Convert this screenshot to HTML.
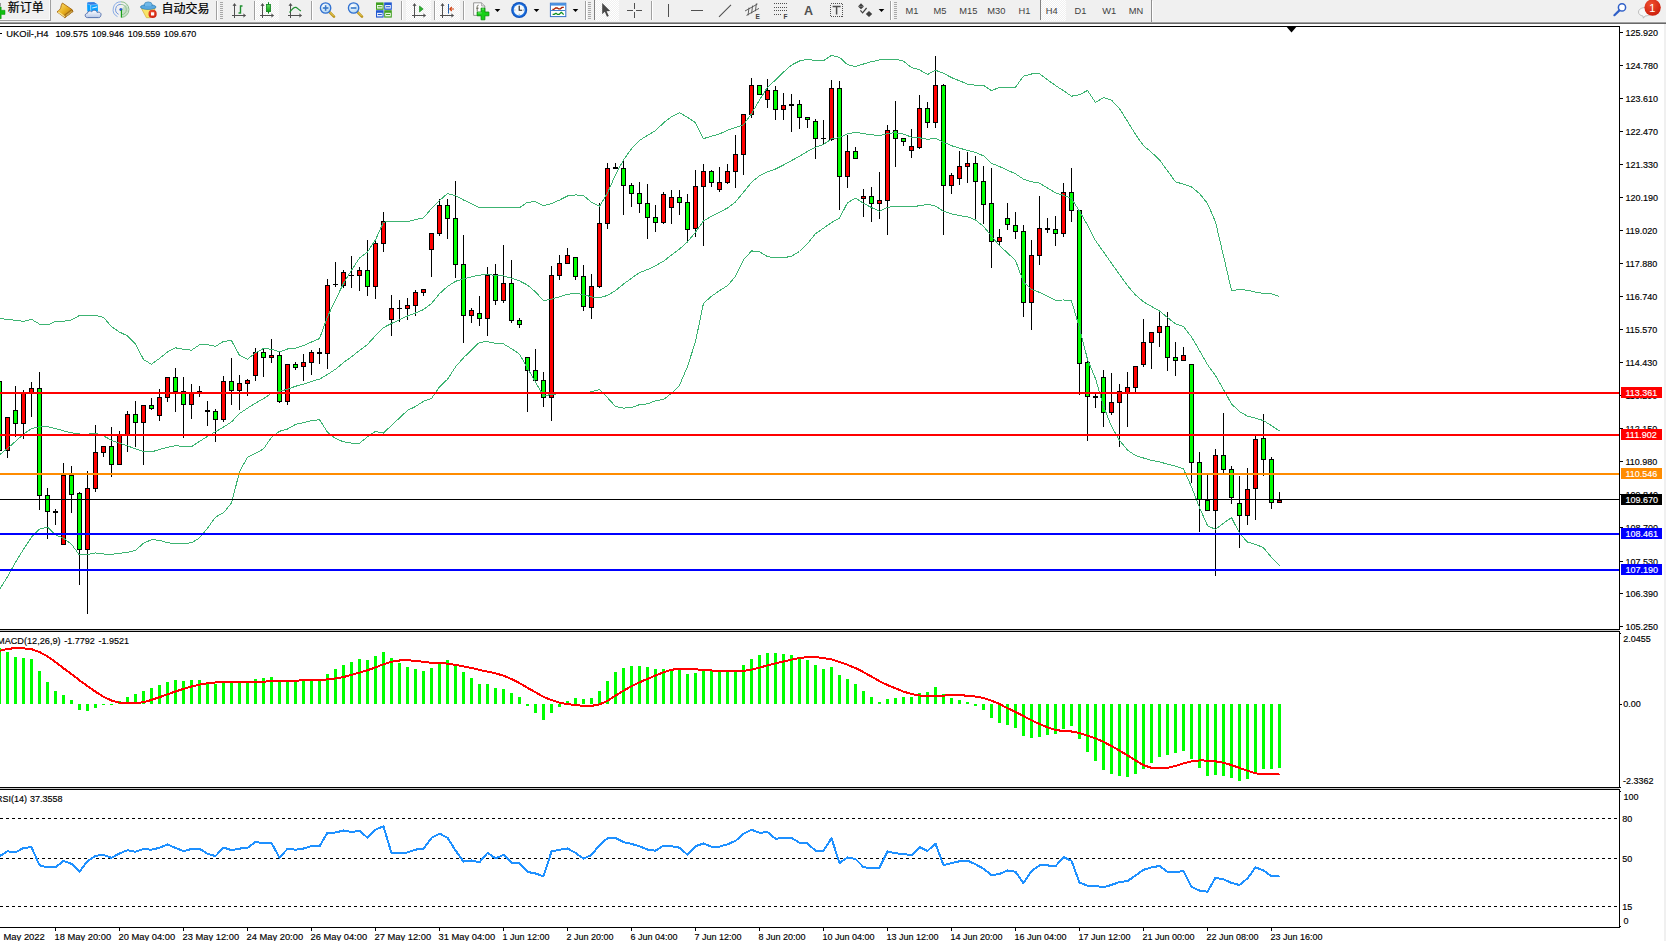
<!DOCTYPE html>
<html lang="zh"><head><meta charset="utf-8"><title>UKOil-,H4</title>
<style>
html,body{margin:0;padding:0;background:#fff;overflow:hidden}
body{width:1666px;height:941px;position:relative}
svg{position:absolute;left:0;top:0;display:block}
text{font-family:'Liberation Sans', 'Noto Sans CJK SC', sans-serif;}
</style></head><body>
<svg width="1666" height="941" viewBox="0 0 1666 941">
<rect x="0" y="0" width="1666" height="941" fill="#fff"/>
<g shape-rendering="crispEdges">
<rect x="0" y="26" width="1620" height="1" fill="#000"/>
<rect x="1619" y="26" width="1" height="902" fill="#000"/>
<rect x="0" y="629" width="1620" height="1" fill="#000"/>
<rect x="0" y="630" width="1620" height="1" fill="#c8c8c8"/>
<rect x="0" y="631" width="1620" height="1" fill="#000"/>
<rect x="0" y="787" width="1620" height="1" fill="#000"/>
<rect x="0" y="788" width="1620" height="1" fill="#c8c8c8"/>
<rect x="0" y="789" width="1620" height="1" fill="#000"/>
<rect x="0" y="927" width="1620" height="1" fill="#000"/>
<rect x="1664" y="24" width="2" height="917" fill="#f0f0f0"/>
</g>
<g shape-rendering="crispEdges">
<rect x="-1" y="372" width="1" height="80" fill="#000"/>
<rect x="-3" y="381" width="5" height="70" fill="#000"/>
<rect x="-2" y="382" width="3" height="68" fill="#00ff00"/>
<rect x="7" y="417" width="1" height="41" fill="#000"/>
<rect x="5" y="417" width="5" height="34" fill="#000"/>
<rect x="6" y="418" width="3" height="32" fill="#ff0000"/>
<rect x="15" y="386" width="1" height="51" fill="#000"/>
<rect x="13" y="410" width="5" height="14" fill="#000"/>
<rect x="14" y="411" width="3" height="12" fill="#00ff00"/>
<rect x="23" y="390" width="1" height="49" fill="#000"/>
<rect x="21" y="393" width="5" height="31" fill="#000"/>
<rect x="22" y="394" width="3" height="29" fill="#ff0000"/>
<rect x="31" y="382" width="1" height="35" fill="#000"/>
<rect x="29" y="388" width="5" height="6" fill="#000"/>
<rect x="30" y="389" width="3" height="4" fill="#ff0000"/>
<rect x="39" y="372" width="1" height="138" fill="#000"/>
<rect x="37" y="388" width="5" height="108" fill="#000"/>
<rect x="38" y="389" width="3" height="106" fill="#00ff00"/>
<rect x="47" y="488" width="1" height="51" fill="#000"/>
<rect x="45" y="495" width="5" height="17" fill="#000"/>
<rect x="46" y="496" width="3" height="15" fill="#00ff00"/>
<rect x="55" y="509" width="1" height="16" fill="#000"/>
<rect x="53" y="511" width="5" height="2" fill="#000"/>
<rect x="63" y="463" width="1" height="81" fill="#000"/>
<rect x="61" y="475" width="5" height="70" fill="#000"/>
<rect x="62" y="476" width="3" height="68" fill="#ff0000"/>
<rect x="71" y="466" width="1" height="47" fill="#000"/>
<rect x="69" y="475" width="5" height="20" fill="#000"/>
<rect x="70" y="476" width="3" height="18" fill="#00ff00"/>
<rect x="79" y="492" width="1" height="93" fill="#000"/>
<rect x="77" y="493" width="5" height="57" fill="#000"/>
<rect x="78" y="494" width="3" height="55" fill="#00ff00"/>
<rect x="87" y="471" width="1" height="143" fill="#000"/>
<rect x="85" y="488" width="5" height="62" fill="#000"/>
<rect x="86" y="489" width="3" height="60" fill="#ff0000"/>
<rect x="95" y="425" width="1" height="67" fill="#000"/>
<rect x="93" y="452" width="5" height="37" fill="#000"/>
<rect x="94" y="453" width="3" height="35" fill="#ff0000"/>
<rect x="103" y="446" width="1" height="11" fill="#000"/>
<rect x="101" y="446" width="5" height="7" fill="#000"/>
<rect x="102" y="447" width="3" height="5" fill="#ff0000"/>
<rect x="111" y="427" width="1" height="50" fill="#000"/>
<rect x="109" y="446" width="5" height="19" fill="#000"/>
<rect x="110" y="447" width="3" height="17" fill="#00ff00"/>
<rect x="119" y="431" width="1" height="33" fill="#000"/>
<rect x="117" y="435" width="5" height="30" fill="#000"/>
<rect x="118" y="436" width="3" height="28" fill="#ff0000"/>
<rect x="127" y="411" width="1" height="41" fill="#000"/>
<rect x="125" y="414" width="5" height="21" fill="#000"/>
<rect x="126" y="415" width="3" height="19" fill="#ff0000"/>
<rect x="135" y="401" width="1" height="46" fill="#000"/>
<rect x="133" y="414" width="5" height="9" fill="#000"/>
<rect x="134" y="415" width="3" height="7" fill="#00ff00"/>
<rect x="143" y="405" width="1" height="60" fill="#000"/>
<rect x="141" y="405" width="5" height="18" fill="#000"/>
<rect x="142" y="406" width="3" height="16" fill="#ff0000"/>
<rect x="151" y="398" width="1" height="12" fill="#000"/>
<rect x="149" y="405" width="5" height="4" fill="#000"/>
<rect x="150" y="406" width="3" height="2" fill="#00ff00"/>
<rect x="159" y="389" width="1" height="32" fill="#000"/>
<rect x="157" y="397" width="5" height="19" fill="#000"/>
<rect x="158" y="398" width="3" height="17" fill="#ff0000"/>
<rect x="167" y="377" width="1" height="25" fill="#000"/>
<rect x="165" y="377" width="5" height="21" fill="#000"/>
<rect x="166" y="378" width="3" height="19" fill="#ff0000"/>
<rect x="175" y="368" width="1" height="44" fill="#000"/>
<rect x="173" y="377" width="5" height="15" fill="#000"/>
<rect x="174" y="378" width="3" height="13" fill="#00ff00"/>
<rect x="183" y="377" width="1" height="61" fill="#000"/>
<rect x="181" y="391" width="5" height="14" fill="#000"/>
<rect x="182" y="392" width="3" height="12" fill="#00ff00"/>
<rect x="191" y="384" width="1" height="35" fill="#000"/>
<rect x="189" y="393" width="5" height="12" fill="#000"/>
<rect x="190" y="394" width="3" height="10" fill="#ff0000"/>
<rect x="199" y="386" width="1" height="11" fill="#000"/>
<rect x="197" y="391" width="5" height="1" fill="#000"/>
<rect x="207" y="401" width="1" height="25" fill="#000"/>
<rect x="205" y="410" width="5" height="2" fill="#000"/>
<rect x="215" y="409" width="1" height="33" fill="#000"/>
<rect x="213" y="411" width="5" height="9" fill="#000"/>
<rect x="214" y="412" width="3" height="7" fill="#00ff00"/>
<rect x="223" y="376" width="1" height="46" fill="#000"/>
<rect x="221" y="381" width="5" height="39" fill="#000"/>
<rect x="222" y="382" width="3" height="37" fill="#ff0000"/>
<rect x="231" y="358" width="1" height="47" fill="#000"/>
<rect x="229" y="381" width="5" height="10" fill="#000"/>
<rect x="230" y="382" width="3" height="8" fill="#00ff00"/>
<rect x="239" y="375" width="1" height="35" fill="#000"/>
<rect x="237" y="383" width="5" height="8" fill="#000"/>
<rect x="238" y="384" width="3" height="6" fill="#ff0000"/>
<rect x="247" y="379" width="1" height="17" fill="#000"/>
<rect x="245" y="380" width="5" height="4" fill="#000"/>
<rect x="246" y="381" width="3" height="2" fill="#ff0000"/>
<rect x="255" y="348" width="1" height="33" fill="#000"/>
<rect x="253" y="352" width="5" height="24" fill="#000"/>
<rect x="254" y="353" width="3" height="22" fill="#ff0000"/>
<rect x="263" y="348" width="1" height="29" fill="#000"/>
<rect x="261" y="352" width="5" height="6" fill="#000"/>
<rect x="262" y="353" width="3" height="4" fill="#00ff00"/>
<rect x="271" y="339" width="1" height="24" fill="#000"/>
<rect x="269" y="355" width="5" height="3" fill="#000"/>
<rect x="270" y="356" width="3" height="1" fill="#ff0000"/>
<rect x="279" y="351" width="1" height="52" fill="#000"/>
<rect x="277" y="355" width="5" height="47" fill="#000"/>
<rect x="278" y="356" width="3" height="45" fill="#00ff00"/>
<rect x="287" y="364" width="1" height="41" fill="#000"/>
<rect x="285" y="364" width="5" height="38" fill="#000"/>
<rect x="286" y="365" width="3" height="36" fill="#ff0000"/>
<rect x="295" y="362" width="1" height="8" fill="#000"/>
<rect x="293" y="364" width="5" height="4" fill="#000"/>
<rect x="294" y="365" width="3" height="2" fill="#00ff00"/>
<rect x="303" y="354" width="1" height="27" fill="#000"/>
<rect x="301" y="362" width="5" height="5" fill="#000"/>
<rect x="302" y="363" width="3" height="3" fill="#ff0000"/>
<rect x="311" y="350" width="1" height="25" fill="#000"/>
<rect x="309" y="352" width="5" height="11" fill="#000"/>
<rect x="310" y="353" width="3" height="9" fill="#ff0000"/>
<rect x="319" y="348" width="1" height="16" fill="#000"/>
<rect x="317" y="352" width="5" height="2" fill="#000"/>
<rect x="327" y="279" width="1" height="90" fill="#000"/>
<rect x="325" y="285" width="5" height="69" fill="#000"/>
<rect x="326" y="286" width="3" height="67" fill="#ff0000"/>
<rect x="335" y="262" width="1" height="25" fill="#000"/>
<rect x="333" y="284" width="5" height="1" fill="#000"/>
<rect x="343" y="270" width="1" height="18" fill="#000"/>
<rect x="341" y="272" width="5" height="14" fill="#000"/>
<rect x="342" y="273" width="3" height="12" fill="#ff0000"/>
<rect x="351" y="256" width="1" height="32" fill="#000"/>
<rect x="349" y="275" width="5" height="1" fill="#000"/>
<rect x="359" y="267" width="1" height="24" fill="#000"/>
<rect x="357" y="270" width="5" height="6" fill="#000"/>
<rect x="358" y="271" width="3" height="4" fill="#ff0000"/>
<rect x="367" y="240" width="1" height="56" fill="#000"/>
<rect x="365" y="270" width="5" height="17" fill="#000"/>
<rect x="366" y="271" width="3" height="15" fill="#00ff00"/>
<rect x="375" y="240" width="1" height="59" fill="#000"/>
<rect x="373" y="243" width="5" height="44" fill="#000"/>
<rect x="374" y="244" width="3" height="42" fill="#ff0000"/>
<rect x="383" y="212" width="1" height="40" fill="#000"/>
<rect x="381" y="221" width="5" height="23" fill="#000"/>
<rect x="382" y="222" width="3" height="21" fill="#ff0000"/>
<rect x="391" y="295" width="1" height="41" fill="#000"/>
<rect x="389" y="308" width="5" height="12" fill="#000"/>
<rect x="390" y="309" width="3" height="10" fill="#ff0000"/>
<rect x="399" y="300" width="1" height="22" fill="#000"/>
<rect x="397" y="308" width="5" height="1" fill="#000"/>
<rect x="407" y="298" width="1" height="22" fill="#000"/>
<rect x="405" y="305" width="5" height="4" fill="#000"/>
<rect x="406" y="306" width="3" height="2" fill="#ff0000"/>
<rect x="415" y="290" width="1" height="26" fill="#000"/>
<rect x="413" y="292" width="5" height="14" fill="#000"/>
<rect x="414" y="293" width="3" height="12" fill="#ff0000"/>
<rect x="423" y="289" width="1" height="7" fill="#000"/>
<rect x="421" y="289" width="5" height="4" fill="#000"/>
<rect x="422" y="290" width="3" height="2" fill="#ff0000"/>
<rect x="431" y="233" width="1" height="44" fill="#000"/>
<rect x="429" y="233" width="5" height="17" fill="#000"/>
<rect x="430" y="234" width="3" height="15" fill="#ff0000"/>
<rect x="439" y="199" width="1" height="37" fill="#000"/>
<rect x="437" y="205" width="5" height="29" fill="#000"/>
<rect x="438" y="206" width="3" height="27" fill="#ff0000"/>
<rect x="447" y="199" width="1" height="40" fill="#000"/>
<rect x="445" y="205" width="5" height="14" fill="#000"/>
<rect x="446" y="206" width="3" height="12" fill="#00ff00"/>
<rect x="455" y="181" width="1" height="97" fill="#000"/>
<rect x="453" y="218" width="5" height="47" fill="#000"/>
<rect x="454" y="219" width="3" height="45" fill="#00ff00"/>
<rect x="463" y="235" width="1" height="108" fill="#000"/>
<rect x="461" y="264" width="5" height="52" fill="#000"/>
<rect x="462" y="265" width="3" height="50" fill="#00ff00"/>
<rect x="471" y="308" width="1" height="15" fill="#000"/>
<rect x="469" y="310" width="5" height="6" fill="#000"/>
<rect x="470" y="311" width="3" height="4" fill="#ff0000"/>
<rect x="479" y="296" width="1" height="30" fill="#000"/>
<rect x="477" y="313" width="5" height="6" fill="#000"/>
<rect x="478" y="314" width="3" height="4" fill="#00ff00"/>
<rect x="487" y="267" width="1" height="69" fill="#000"/>
<rect x="485" y="275" width="5" height="44" fill="#000"/>
<rect x="486" y="276" width="3" height="42" fill="#ff0000"/>
<rect x="495" y="264" width="1" height="41" fill="#000"/>
<rect x="493" y="274" width="5" height="27" fill="#000"/>
<rect x="494" y="275" width="3" height="25" fill="#00ff00"/>
<rect x="503" y="245" width="1" height="58" fill="#000"/>
<rect x="501" y="283" width="5" height="18" fill="#000"/>
<rect x="502" y="284" width="3" height="16" fill="#ff0000"/>
<rect x="511" y="260" width="1" height="63" fill="#000"/>
<rect x="509" y="283" width="5" height="38" fill="#000"/>
<rect x="510" y="284" width="3" height="36" fill="#00ff00"/>
<rect x="519" y="318" width="1" height="10" fill="#000"/>
<rect x="517" y="320" width="5" height="5" fill="#000"/>
<rect x="518" y="321" width="3" height="3" fill="#00ff00"/>
<rect x="527" y="357" width="1" height="55" fill="#000"/>
<rect x="525" y="357" width="5" height="14" fill="#000"/>
<rect x="526" y="358" width="3" height="12" fill="#00ff00"/>
<rect x="535" y="349" width="1" height="34" fill="#000"/>
<rect x="533" y="370" width="5" height="11" fill="#000"/>
<rect x="534" y="371" width="3" height="9" fill="#00ff00"/>
<rect x="543" y="372" width="1" height="35" fill="#000"/>
<rect x="541" y="380" width="5" height="18" fill="#000"/>
<rect x="542" y="381" width="3" height="16" fill="#00ff00"/>
<rect x="551" y="266" width="1" height="155" fill="#000"/>
<rect x="549" y="275" width="5" height="123" fill="#000"/>
<rect x="550" y="276" width="3" height="121" fill="#ff0000"/>
<rect x="559" y="255" width="1" height="25" fill="#000"/>
<rect x="557" y="263" width="5" height="13" fill="#000"/>
<rect x="558" y="264" width="3" height="11" fill="#ff0000"/>
<rect x="567" y="248" width="1" height="15" fill="#000"/>
<rect x="565" y="255" width="5" height="9" fill="#000"/>
<rect x="566" y="256" width="3" height="7" fill="#ff0000"/>
<rect x="575" y="257" width="1" height="23" fill="#000"/>
<rect x="573" y="257" width="5" height="20" fill="#000"/>
<rect x="574" y="258" width="3" height="18" fill="#00ff00"/>
<rect x="583" y="265" width="1" height="46" fill="#000"/>
<rect x="581" y="276" width="5" height="31" fill="#000"/>
<rect x="582" y="277" width="3" height="29" fill="#00ff00"/>
<rect x="591" y="274" width="1" height="45" fill="#000"/>
<rect x="589" y="286" width="5" height="22" fill="#000"/>
<rect x="590" y="287" width="3" height="20" fill="#ff0000"/>
<rect x="599" y="203" width="1" height="85" fill="#000"/>
<rect x="597" y="223" width="5" height="64" fill="#000"/>
<rect x="598" y="224" width="3" height="62" fill="#ff0000"/>
<rect x="607" y="163" width="1" height="66" fill="#000"/>
<rect x="605" y="168" width="5" height="56" fill="#000"/>
<rect x="606" y="169" width="3" height="54" fill="#ff0000"/>
<rect x="615" y="163" width="1" height="5" fill="#000"/>
<rect x="613" y="167" width="5" height="2" fill="#000"/>
<rect x="623" y="161" width="1" height="54" fill="#000"/>
<rect x="621" y="168" width="5" height="18" fill="#000"/>
<rect x="622" y="169" width="3" height="16" fill="#00ff00"/>
<rect x="631" y="183" width="1" height="24" fill="#000"/>
<rect x="629" y="185" width="5" height="9" fill="#000"/>
<rect x="630" y="186" width="3" height="7" fill="#00ff00"/>
<rect x="639" y="182" width="1" height="31" fill="#000"/>
<rect x="637" y="193" width="5" height="11" fill="#000"/>
<rect x="638" y="194" width="3" height="9" fill="#00ff00"/>
<rect x="647" y="184" width="1" height="55" fill="#000"/>
<rect x="645" y="203" width="5" height="15" fill="#000"/>
<rect x="646" y="204" width="3" height="13" fill="#00ff00"/>
<rect x="655" y="205" width="1" height="27" fill="#000"/>
<rect x="653" y="217" width="5" height="6" fill="#000"/>
<rect x="654" y="218" width="3" height="4" fill="#00ff00"/>
<rect x="663" y="192" width="1" height="32" fill="#000"/>
<rect x="661" y="194" width="5" height="29" fill="#000"/>
<rect x="662" y="195" width="3" height="27" fill="#ff0000"/>
<rect x="671" y="190" width="1" height="34" fill="#000"/>
<rect x="669" y="197" width="5" height="11" fill="#000"/>
<rect x="670" y="198" width="3" height="9" fill="#ff0000"/>
<rect x="679" y="190" width="1" height="25" fill="#000"/>
<rect x="677" y="197" width="5" height="6" fill="#000"/>
<rect x="678" y="198" width="3" height="4" fill="#00ff00"/>
<rect x="687" y="194" width="1" height="49" fill="#000"/>
<rect x="685" y="202" width="5" height="28" fill="#000"/>
<rect x="686" y="203" width="3" height="26" fill="#00ff00"/>
<rect x="695" y="170" width="1" height="67" fill="#000"/>
<rect x="693" y="186" width="5" height="43" fill="#000"/>
<rect x="694" y="187" width="3" height="41" fill="#ff0000"/>
<rect x="703" y="164" width="1" height="82" fill="#000"/>
<rect x="701" y="171" width="5" height="16" fill="#000"/>
<rect x="702" y="172" width="3" height="14" fill="#ff0000"/>
<rect x="711" y="170" width="1" height="17" fill="#000"/>
<rect x="709" y="171" width="5" height="12" fill="#000"/>
<rect x="710" y="172" width="3" height="10" fill="#00ff00"/>
<rect x="719" y="167" width="1" height="25" fill="#000"/>
<rect x="717" y="182" width="5" height="8" fill="#000"/>
<rect x="718" y="183" width="3" height="6" fill="#ff0000"/>
<rect x="727" y="164" width="1" height="20" fill="#000"/>
<rect x="725" y="171" width="5" height="12" fill="#000"/>
<rect x="726" y="172" width="3" height="10" fill="#ff0000"/>
<rect x="735" y="135" width="1" height="53" fill="#000"/>
<rect x="733" y="154" width="5" height="18" fill="#000"/>
<rect x="734" y="155" width="3" height="16" fill="#ff0000"/>
<rect x="743" y="114" width="1" height="61" fill="#000"/>
<rect x="741" y="114" width="5" height="41" fill="#000"/>
<rect x="742" y="115" width="3" height="39" fill="#ff0000"/>
<rect x="751" y="78" width="1" height="40" fill="#000"/>
<rect x="749" y="85" width="5" height="30" fill="#000"/>
<rect x="750" y="86" width="3" height="28" fill="#ff0000"/>
<rect x="759" y="85" width="1" height="9" fill="#000"/>
<rect x="757" y="85" width="5" height="10" fill="#000"/>
<rect x="758" y="86" width="3" height="8" fill="#00ff00"/>
<rect x="767" y="79" width="1" height="29" fill="#000"/>
<rect x="765" y="90" width="5" height="10" fill="#000"/>
<rect x="766" y="91" width="3" height="8" fill="#ff0000"/>
<rect x="775" y="86" width="1" height="34" fill="#000"/>
<rect x="773" y="90" width="5" height="20" fill="#000"/>
<rect x="774" y="91" width="3" height="18" fill="#00ff00"/>
<rect x="783" y="93" width="1" height="27" fill="#000"/>
<rect x="781" y="105" width="5" height="5" fill="#000"/>
<rect x="782" y="106" width="3" height="3" fill="#ff0000"/>
<rect x="791" y="94" width="1" height="38" fill="#000"/>
<rect x="789" y="104" width="5" height="2" fill="#000"/>
<rect x="799" y="100" width="1" height="29" fill="#000"/>
<rect x="797" y="104" width="5" height="14" fill="#000"/>
<rect x="798" y="105" width="3" height="12" fill="#00ff00"/>
<rect x="807" y="117" width="1" height="11" fill="#000"/>
<rect x="805" y="117" width="5" height="3" fill="#000"/>
<rect x="806" y="118" width="3" height="1" fill="#00ff00"/>
<rect x="815" y="119" width="1" height="40" fill="#000"/>
<rect x="813" y="121" width="5" height="18" fill="#000"/>
<rect x="814" y="122" width="3" height="16" fill="#00ff00"/>
<rect x="823" y="120" width="1" height="24" fill="#000"/>
<rect x="821" y="138" width="5" height="1" fill="#000"/>
<rect x="831" y="80" width="1" height="61" fill="#000"/>
<rect x="829" y="88" width="5" height="52" fill="#000"/>
<rect x="830" y="89" width="3" height="50" fill="#ff0000"/>
<rect x="839" y="81" width="1" height="129" fill="#000"/>
<rect x="837" y="88" width="5" height="89" fill="#000"/>
<rect x="838" y="89" width="3" height="87" fill="#00ff00"/>
<rect x="847" y="135" width="1" height="53" fill="#000"/>
<rect x="845" y="151" width="5" height="26" fill="#000"/>
<rect x="846" y="152" width="3" height="24" fill="#ff0000"/>
<rect x="855" y="147" width="1" height="12" fill="#000"/>
<rect x="853" y="151" width="5" height="8" fill="#000"/>
<rect x="854" y="152" width="3" height="6" fill="#00ff00"/>
<rect x="863" y="189" width="1" height="28" fill="#000"/>
<rect x="861" y="196" width="5" height="3" fill="#000"/>
<rect x="862" y="197" width="3" height="1" fill="#ff0000"/>
<rect x="871" y="187" width="1" height="35" fill="#000"/>
<rect x="869" y="196" width="5" height="8" fill="#000"/>
<rect x="870" y="197" width="3" height="6" fill="#00ff00"/>
<rect x="879" y="172" width="1" height="47" fill="#000"/>
<rect x="877" y="200" width="5" height="4" fill="#000"/>
<rect x="878" y="201" width="3" height="2" fill="#ff0000"/>
<rect x="887" y="125" width="1" height="110" fill="#000"/>
<rect x="885" y="130" width="5" height="71" fill="#000"/>
<rect x="886" y="131" width="3" height="69" fill="#ff0000"/>
<rect x="895" y="101" width="1" height="66" fill="#000"/>
<rect x="893" y="130" width="5" height="9" fill="#000"/>
<rect x="894" y="131" width="3" height="7" fill="#00ff00"/>
<rect x="903" y="138" width="1" height="8" fill="#000"/>
<rect x="901" y="138" width="5" height="4" fill="#000"/>
<rect x="902" y="139" width="3" height="2" fill="#00ff00"/>
<rect x="911" y="129" width="1" height="29" fill="#000"/>
<rect x="909" y="146" width="5" height="5" fill="#000"/>
<rect x="910" y="147" width="3" height="3" fill="#ff0000"/>
<rect x="919" y="95" width="1" height="54" fill="#000"/>
<rect x="917" y="108" width="5" height="40" fill="#000"/>
<rect x="918" y="109" width="3" height="38" fill="#ff0000"/>
<rect x="927" y="102" width="1" height="26" fill="#000"/>
<rect x="925" y="108" width="5" height="15" fill="#000"/>
<rect x="926" y="109" width="3" height="13" fill="#00ff00"/>
<rect x="935" y="56" width="1" height="72" fill="#000"/>
<rect x="933" y="85" width="5" height="38" fill="#000"/>
<rect x="934" y="86" width="3" height="36" fill="#ff0000"/>
<rect x="943" y="84" width="1" height="151" fill="#000"/>
<rect x="941" y="85" width="5" height="101" fill="#000"/>
<rect x="942" y="86" width="3" height="99" fill="#00ff00"/>
<rect x="951" y="173" width="1" height="21" fill="#000"/>
<rect x="949" y="175" width="5" height="11" fill="#000"/>
<rect x="950" y="176" width="3" height="9" fill="#ff0000"/>
<rect x="959" y="151" width="1" height="34" fill="#000"/>
<rect x="957" y="166" width="5" height="13" fill="#000"/>
<rect x="958" y="167" width="3" height="11" fill="#ff0000"/>
<rect x="967" y="152" width="1" height="31" fill="#000"/>
<rect x="965" y="163" width="5" height="4" fill="#000"/>
<rect x="966" y="164" width="3" height="2" fill="#ff0000"/>
<rect x="975" y="156" width="1" height="65" fill="#000"/>
<rect x="973" y="163" width="5" height="19" fill="#000"/>
<rect x="974" y="164" width="3" height="17" fill="#00ff00"/>
<rect x="983" y="166" width="1" height="58" fill="#000"/>
<rect x="981" y="181" width="5" height="24" fill="#000"/>
<rect x="982" y="182" width="3" height="22" fill="#00ff00"/>
<rect x="991" y="168" width="1" height="100" fill="#000"/>
<rect x="989" y="203" width="5" height="39" fill="#000"/>
<rect x="990" y="204" width="3" height="37" fill="#00ff00"/>
<rect x="999" y="229" width="1" height="16" fill="#000"/>
<rect x="997" y="237" width="5" height="5" fill="#000"/>
<rect x="998" y="238" width="3" height="3" fill="#ff0000"/>
<rect x="1007" y="203" width="1" height="27" fill="#000"/>
<rect x="1005" y="218" width="5" height="7" fill="#000"/>
<rect x="1006" y="219" width="3" height="5" fill="#00ff00"/>
<rect x="1015" y="212" width="1" height="27" fill="#000"/>
<rect x="1013" y="225" width="5" height="7" fill="#000"/>
<rect x="1014" y="226" width="3" height="5" fill="#00ff00"/>
<rect x="1023" y="225" width="1" height="92" fill="#000"/>
<rect x="1021" y="231" width="5" height="72" fill="#000"/>
<rect x="1022" y="232" width="3" height="70" fill="#00ff00"/>
<rect x="1031" y="240" width="1" height="90" fill="#000"/>
<rect x="1029" y="255" width="5" height="48" fill="#000"/>
<rect x="1030" y="256" width="3" height="46" fill="#ff0000"/>
<rect x="1039" y="196" width="1" height="69" fill="#000"/>
<rect x="1037" y="228" width="5" height="28" fill="#000"/>
<rect x="1038" y="229" width="3" height="26" fill="#ff0000"/>
<rect x="1047" y="218" width="1" height="15" fill="#000"/>
<rect x="1045" y="228" width="5" height="2" fill="#000"/>
<rect x="1055" y="216" width="1" height="30" fill="#000"/>
<rect x="1053" y="229" width="5" height="5" fill="#000"/>
<rect x="1054" y="230" width="3" height="3" fill="#00ff00"/>
<rect x="1063" y="183" width="1" height="54" fill="#000"/>
<rect x="1061" y="192" width="5" height="42" fill="#000"/>
<rect x="1062" y="193" width="3" height="40" fill="#ff0000"/>
<rect x="1071" y="168" width="1" height="54" fill="#000"/>
<rect x="1069" y="192" width="5" height="19" fill="#000"/>
<rect x="1070" y="193" width="3" height="17" fill="#00ff00"/>
<rect x="1079" y="210" width="1" height="185" fill="#000"/>
<rect x="1077" y="210" width="5" height="154" fill="#000"/>
<rect x="1078" y="211" width="3" height="152" fill="#00ff00"/>
<rect x="1087" y="357" width="1" height="84" fill="#000"/>
<rect x="1085" y="362" width="5" height="35" fill="#000"/>
<rect x="1086" y="363" width="3" height="33" fill="#00ff00"/>
<rect x="1095" y="394" width="1" height="14" fill="#000"/>
<rect x="1093" y="396" width="5" height="2" fill="#000"/>
<rect x="1103" y="370" width="1" height="57" fill="#000"/>
<rect x="1101" y="377" width="5" height="36" fill="#000"/>
<rect x="1102" y="378" width="3" height="34" fill="#00ff00"/>
<rect x="1111" y="373" width="1" height="42" fill="#000"/>
<rect x="1109" y="402" width="5" height="11" fill="#000"/>
<rect x="1110" y="403" width="3" height="9" fill="#ff0000"/>
<rect x="1119" y="384" width="1" height="63" fill="#000"/>
<rect x="1117" y="391" width="5" height="12" fill="#000"/>
<rect x="1118" y="392" width="3" height="10" fill="#ff0000"/>
<rect x="1127" y="372" width="1" height="55" fill="#000"/>
<rect x="1125" y="387" width="5" height="6" fill="#000"/>
<rect x="1126" y="388" width="3" height="4" fill="#ff0000"/>
<rect x="1135" y="366" width="1" height="26" fill="#000"/>
<rect x="1133" y="366" width="5" height="22" fill="#000"/>
<rect x="1134" y="367" width="3" height="20" fill="#ff0000"/>
<rect x="1143" y="319" width="1" height="48" fill="#000"/>
<rect x="1141" y="342" width="5" height="23" fill="#000"/>
<rect x="1142" y="343" width="3" height="21" fill="#ff0000"/>
<rect x="1151" y="332" width="1" height="37" fill="#000"/>
<rect x="1149" y="332" width="5" height="11" fill="#000"/>
<rect x="1150" y="333" width="3" height="9" fill="#ff0000"/>
<rect x="1159" y="312" width="1" height="35" fill="#000"/>
<rect x="1157" y="326" width="5" height="7" fill="#000"/>
<rect x="1158" y="327" width="3" height="5" fill="#ff0000"/>
<rect x="1167" y="312" width="1" height="59" fill="#000"/>
<rect x="1165" y="326" width="5" height="32" fill="#000"/>
<rect x="1166" y="327" width="3" height="30" fill="#00ff00"/>
<rect x="1175" y="342" width="1" height="34" fill="#000"/>
<rect x="1173" y="357" width="5" height="4" fill="#000"/>
<rect x="1174" y="358" width="3" height="2" fill="#00ff00"/>
<rect x="1183" y="347" width="1" height="13" fill="#000"/>
<rect x="1181" y="355" width="5" height="6" fill="#000"/>
<rect x="1182" y="356" width="3" height="4" fill="#ff0000"/>
<rect x="1191" y="364" width="1" height="119" fill="#000"/>
<rect x="1189" y="364" width="5" height="99" fill="#000"/>
<rect x="1190" y="365" width="3" height="97" fill="#00ff00"/>
<rect x="1199" y="452" width="1" height="80" fill="#000"/>
<rect x="1197" y="462" width="5" height="38" fill="#000"/>
<rect x="1198" y="463" width="3" height="36" fill="#00ff00"/>
<rect x="1207" y="475" width="1" height="35" fill="#000"/>
<rect x="1205" y="500" width="5" height="11" fill="#000"/>
<rect x="1206" y="501" width="3" height="9" fill="#00ff00"/>
<rect x="1215" y="449" width="1" height="127" fill="#000"/>
<rect x="1213" y="455" width="5" height="56" fill="#000"/>
<rect x="1214" y="456" width="3" height="54" fill="#ff0000"/>
<rect x="1223" y="413" width="1" height="60" fill="#000"/>
<rect x="1221" y="455" width="5" height="15" fill="#000"/>
<rect x="1222" y="456" width="3" height="13" fill="#00ff00"/>
<rect x="1231" y="466" width="1" height="38" fill="#000"/>
<rect x="1229" y="469" width="5" height="29" fill="#000"/>
<rect x="1230" y="470" width="3" height="27" fill="#00ff00"/>
<rect x="1239" y="476" width="1" height="72" fill="#000"/>
<rect x="1237" y="503" width="5" height="13" fill="#000"/>
<rect x="1238" y="504" width="3" height="11" fill="#00ff00"/>
<rect x="1247" y="468" width="1" height="57" fill="#000"/>
<rect x="1245" y="489" width="5" height="27" fill="#000"/>
<rect x="1246" y="490" width="3" height="25" fill="#ff0000"/>
<rect x="1255" y="436" width="1" height="84" fill="#000"/>
<rect x="1253" y="439" width="5" height="50" fill="#000"/>
<rect x="1254" y="440" width="3" height="48" fill="#ff0000"/>
<rect x="1263" y="414" width="1" height="62" fill="#000"/>
<rect x="1261" y="438" width="5" height="22" fill="#000"/>
<rect x="1262" y="439" width="3" height="20" fill="#00ff00"/>
<rect x="1271" y="457" width="1" height="52" fill="#000"/>
<rect x="1269" y="459" width="5" height="44" fill="#000"/>
<rect x="1270" y="460" width="3" height="42" fill="#00ff00"/>
<rect x="1279" y="492" width="1" height="11" fill="#000"/>
<rect x="1277" y="500" width="5" height="3" fill="#000"/>
<rect x="1278" y="501" width="3" height="1" fill="#ff0000"/>
</g>
<clipPath id="cm"><rect x="0" y="27" width="1619" height="602"/></clipPath>
<g clip-path="url(#cm)">
<polyline points="-0.5,318.5 7.5,319.5 15.5,320.3 23.5,321.3 31.5,319.3 39.5,324.1 47.5,325.0 55.5,321.3 63.5,321.3 71.5,320.0 79.5,315.5 87.5,315.5 95.5,315.5 103.5,317.4 111.5,326.7 119.5,332.1 127.5,335.8 135.5,344.0 143.5,359.5 151.5,364.3 159.5,358.4 167.5,352.0 175.5,347.8 183.5,349.4 191.5,350.2 199.5,344.9 207.5,344.6 215.5,346.4 223.5,341.4 231.5,340.6 239.5,355.3 247.5,359.2 255.5,352.8 263.5,348.5 271.5,349.3 279.5,351.8 287.5,349.0 295.5,348.2 303.5,345.6 311.5,342.0 319.5,338.6 327.5,316.8 335.5,299.9 343.5,283.4 351.5,270.3 359.5,258.0 367.5,252.0 375.5,239.8 383.5,222.1 391.5,221.7 399.5,221.6 407.5,221.6 415.5,219.6 423.5,217.9 431.5,208.5 439.5,200.5 447.5,193.5 455.5,195.7 463.5,200.0 471.5,203.8 479.5,207.9 487.5,207.6 495.5,207.5 503.5,208.0 511.5,207.6 519.5,207.7 527.5,202.2 535.5,201.8 543.5,205.7 551.5,203.5 559.5,200.1 567.5,196.0 575.5,194.9 583.5,195.6 591.5,202.2 599.5,206.3 607.5,193.1 615.5,174.6 623.5,160.0 631.5,148.7 639.5,140.4 647.5,135.3 655.5,130.6 663.5,122.9 671.5,116.8 679.5,112.7 687.5,117.3 695.5,122.8 703.5,138.6 711.5,136.2 719.5,133.9 727.5,130.3 735.5,127.4 743.5,124.8 751.5,113.7 759.5,99.9 767.5,87.3 775.5,80.0 783.5,72.1 791.5,65.1 799.5,61.0 807.5,59.1 815.5,60.7 823.5,60.6 831.5,55.3 839.5,57.3 847.5,64.7 855.5,66.5 863.5,64.0 871.5,61.7 879.5,59.9 887.5,59.6 895.5,59.3 903.5,61.1 911.5,67.6 919.5,69.8 927.5,74.5 935.5,70.3 943.5,73.2 951.5,77.6 959.5,80.8 967.5,84.1 975.5,85.2 983.5,85.2 991.5,90.8 999.5,87.2 1007.5,87.4 1015.5,87.1 1023.5,76.2 1031.5,74.0 1039.5,73.8 1047.5,79.8 1055.5,85.5 1063.5,90.7 1071.5,96.2 1079.5,94.7 1087.5,90.5 1095.5,102.5 1103.5,97.6 1111.5,100.1 1119.5,108.7 1127.5,121.3 1135.5,134.4 1143.5,145.7 1151.5,152.3 1159.5,159.9 1167.5,170.8 1175.5,181.8 1183.5,184.2 1191.5,187.0 1199.5,193.5 1207.5,203.5 1215.5,221.9 1223.5,255.9 1231.5,290.3 1239.5,289.8 1247.5,290.1 1255.5,292.2 1263.5,293.4 1271.5,293.9 1279.5,296.5" fill="none" stroke="#3cb371" stroke-width="1" stroke-linejoin="round" shape-rendering="crispEdges"/>
<polyline points="-0.5,454.8 7.5,448.4 15.5,441.3 23.5,434.2 31.5,428.6 39.5,426.6 47.5,426.6 55.5,428.6 63.5,430.8 71.5,432.8 79.5,434.0 87.5,434.2 95.5,433.4 103.5,435.8 111.5,440.3 119.5,443.3 127.5,445.9 135.5,448.8 143.5,451.4 151.5,452.0 159.5,449.4 167.5,447.4 175.5,445.8 183.5,446.3 191.5,446.6 199.5,441.4 207.5,436.4 215.5,431.8 223.5,427.1 231.5,421.9 239.5,413.6 247.5,408.1 255.5,403.1 263.5,398.7 271.5,393.2 279.5,391.6 287.5,389.1 295.5,386.3 303.5,384.1 311.5,381.4 319.5,379.1 327.5,374.5 335.5,369.2 343.5,362.6 351.5,356.7 359.5,350.6 367.5,344.4 375.5,335.6 383.5,327.6 391.5,323.5 399.5,319.8 407.5,316.0 415.5,313.0 423.5,309.6 431.5,303.5 439.5,293.7 447.5,286.4 455.5,281.3 463.5,278.9 471.5,276.8 479.5,275.1 487.5,274.6 495.5,275.4 503.5,275.9 511.5,278.2 519.5,280.9 527.5,285.1 535.5,291.9 543.5,300.7 551.5,299.1 559.5,296.8 567.5,294.3 575.5,293.5 583.5,294.4 591.5,297.0 599.5,297.9 607.5,295.4 615.5,290.6 623.5,284.1 631.5,278.2 639.5,272.5 647.5,269.6 655.5,265.7 663.5,261.2 671.5,255.1 679.5,249.0 687.5,241.9 695.5,232.2 703.5,220.9 711.5,216.3 719.5,212.2 727.5,208.0 735.5,201.9 743.5,192.3 751.5,182.3 759.5,175.8 767.5,171.9 775.5,169.0 783.5,165.0 791.5,160.6 799.5,156.3 807.5,151.4 815.5,147.2 823.5,144.4 831.5,138.9 839.5,137.7 847.5,133.8 855.5,132.3 863.5,133.6 871.5,134.7 879.5,135.6 887.5,133.5 895.5,132.7 903.5,134.1 911.5,137.1 919.5,137.8 927.5,139.4 935.5,138.2 943.5,142.2 951.5,145.7 959.5,148.2 967.5,150.4 975.5,152.5 983.5,155.8 991.5,163.4 999.5,166.5 1007.5,170.2 1015.5,173.8 1023.5,179.1 1031.5,181.7 1039.5,183.1 1047.5,188.0 1055.5,192.8 1063.5,195.3 1071.5,198.5 1079.5,211.3 1087.5,225.0 1095.5,240.6 1103.5,251.9 1111.5,263.2 1119.5,274.5 1127.5,285.7 1135.5,294.9 1143.5,301.9 1151.5,306.4 1159.5,310.9 1167.5,317.5 1175.5,323.9 1183.5,326.6 1191.5,336.9 1199.5,350.5 1207.5,364.6 1215.5,375.7 1223.5,389.5 1231.5,403.9 1239.5,411.5 1247.5,416.1 1255.5,418.2 1263.5,420.6 1271.5,425.6 1279.5,431.1" fill="none" stroke="#3cb371" stroke-width="1" stroke-linejoin="round" shape-rendering="crispEdges"/>
<polyline points="-0.5,589.7 7.5,576.6 15.5,562.4 23.5,549.3 31.5,537.2 39.5,529.1 47.5,527.1 55.5,534.8 63.5,538.2 71.5,544.3 79.5,555.0 87.5,554.4 95.5,552.9 103.5,554.0 111.5,554.4 119.5,553.3 127.5,552.3 135.5,550.3 143.5,543.3 151.5,539.7 159.5,540.3 167.5,542.7 175.5,543.8 183.5,543.2 191.5,542.9 199.5,537.9 207.5,528.2 215.5,517.1 223.5,512.7 231.5,503.1 239.5,471.8 247.5,457.1 255.5,453.5 263.5,448.9 271.5,437.2 279.5,431.3 287.5,429.1 295.5,424.4 303.5,422.7 311.5,420.7 319.5,419.7 327.5,432.2 335.5,438.5 343.5,441.8 351.5,443.1 359.5,443.2 367.5,436.8 375.5,431.4 383.5,433.1 391.5,425.3 399.5,418.0 407.5,410.4 415.5,406.5 423.5,401.3 431.5,398.5 439.5,386.9 447.5,379.3 455.5,366.9 463.5,357.8 471.5,349.9 479.5,342.3 487.5,341.6 495.5,343.3 503.5,343.9 511.5,348.7 519.5,354.1 527.5,368.0 535.5,382.1 543.5,395.7 551.5,394.6 559.5,393.5 567.5,392.6 575.5,392.1 583.5,393.1 591.5,391.8 599.5,389.5 607.5,397.7 615.5,406.5 623.5,408.1 631.5,407.7 639.5,404.6 647.5,403.9 655.5,400.7 663.5,399.5 671.5,393.3 679.5,385.3 687.5,366.5 695.5,341.6 703.5,303.2 711.5,296.3 719.5,290.6 727.5,285.7 735.5,276.4 743.5,259.9 751.5,250.9 759.5,251.8 767.5,256.6 775.5,258.0 783.5,257.9 791.5,256.1 799.5,251.5 807.5,243.6 815.5,233.7 823.5,228.2 831.5,222.6 839.5,218.0 847.5,202.8 855.5,198.2 863.5,203.2 871.5,207.6 879.5,211.2 887.5,207.4 895.5,206.1 903.5,207.0 911.5,206.6 919.5,205.8 927.5,204.3 935.5,206.1 943.5,211.2 951.5,213.9 959.5,215.6 967.5,216.7 975.5,219.9 983.5,226.4 991.5,236.1 999.5,245.8 1007.5,252.9 1015.5,260.5 1023.5,282.0 1031.5,289.4 1039.5,292.4 1047.5,296.2 1055.5,300.1 1063.5,300.0 1071.5,300.8 1079.5,327.9 1087.5,359.4 1095.5,378.6 1103.5,406.2 1111.5,426.4 1119.5,440.3 1127.5,450.1 1135.5,455.5 1143.5,458.0 1151.5,460.5 1159.5,461.8 1167.5,464.2 1175.5,466.1 1183.5,469.0 1191.5,486.9 1199.5,507.5 1207.5,525.7 1215.5,529.4 1223.5,523.2 1231.5,517.5 1239.5,533.2 1247.5,542.1 1255.5,544.3 1263.5,547.8 1271.5,557.3 1279.5,565.6" fill="none" stroke="#3cb371" stroke-width="1" stroke-linejoin="round" shape-rendering="crispEdges"/>
</g>
<g shape-rendering="crispEdges">
<rect x="0" y="392" width="1619" height="2" fill="#ff0000"/>
<rect x="0" y="434" width="1619" height="2" fill="#ff0000"/>
<rect x="0" y="473" width="1619" height="2" fill="#ff8c00"/>
<rect x="0" y="533" width="1619" height="2" fill="#0000ff"/>
<rect x="0" y="569" width="1619" height="2" fill="#0000ff"/>
<rect x="0" y="499" width="1619" height="1" fill="#000"/>
</g>
<g shape-rendering="crispEdges">
<rect x="1620" y="32" width="3" height="1" fill="#000"/>
<rect x="1620" y="65" width="3" height="1" fill="#000"/>
<rect x="1620" y="98" width="3" height="1" fill="#000"/>
<rect x="1620" y="131" width="3" height="1" fill="#000"/>
<rect x="1620" y="164" width="3" height="1" fill="#000"/>
<rect x="1620" y="197" width="3" height="1" fill="#000"/>
<rect x="1620" y="230" width="3" height="1" fill="#000"/>
<rect x="1620" y="263" width="3" height="1" fill="#000"/>
<rect x="1620" y="296" width="3" height="1" fill="#000"/>
<rect x="1620" y="329" width="3" height="1" fill="#000"/>
<rect x="1620" y="362" width="3" height="1" fill="#000"/>
<rect x="1620" y="395" width="3" height="1" fill="#000"/>
<rect x="1620" y="428" width="3" height="1" fill="#000"/>
<rect x="1620" y="461" width="3" height="1" fill="#000"/>
<rect x="1620" y="494" width="3" height="1" fill="#000"/>
<rect x="1620" y="527" width="3" height="1" fill="#000"/>
<rect x="1620" y="561" width="3" height="1" fill="#000"/>
<rect x="1620" y="593" width="3" height="1" fill="#000"/>
<rect x="1620" y="626" width="3" height="1" fill="#000"/>
</g>
<text x="1625.5" y="35.6" font-size="9" fill="#000" stroke="#000" stroke-width="0.15" >125.920</text>
<text x="1625.5" y="68.6" font-size="9" fill="#000" stroke="#000" stroke-width="0.15" >124.780</text>
<text x="1625.5" y="101.6" font-size="9" fill="#000" stroke="#000" stroke-width="0.15" >123.610</text>
<text x="1625.5" y="134.6" font-size="9" fill="#000" stroke="#000" stroke-width="0.15" >122.470</text>
<text x="1625.5" y="167.6" font-size="9" fill="#000" stroke="#000" stroke-width="0.15" >121.330</text>
<text x="1625.5" y="200.6" font-size="9" fill="#000" stroke="#000" stroke-width="0.15" >120.190</text>
<text x="1625.5" y="233.6" font-size="9" fill="#000" stroke="#000" stroke-width="0.15" >119.020</text>
<text x="1625.5" y="266.6" font-size="9" fill="#000" stroke="#000" stroke-width="0.15" >117.880</text>
<text x="1625.5" y="299.6" font-size="9" fill="#000" stroke="#000" stroke-width="0.15" >116.740</text>
<text x="1625.5" y="332.6" font-size="9" fill="#000" stroke="#000" stroke-width="0.15" >115.570</text>
<text x="1625.5" y="365.6" font-size="9" fill="#000" stroke="#000" stroke-width="0.15" >114.430</text>
<text x="1625.5" y="398.6" font-size="9" fill="#000" stroke="#000" stroke-width="0.15" >113.290</text>
<text x="1625.5" y="431.6" font-size="9" fill="#000" stroke="#000" stroke-width="0.15" >112.150</text>
<text x="1625.5" y="464.6" font-size="9" fill="#000" stroke="#000" stroke-width="0.15" >110.980</text>
<text x="1625.5" y="497.6" font-size="9" fill="#000" stroke="#000" stroke-width="0.15" >109.840</text>
<text x="1625.5" y="530.6" font-size="9" fill="#000" stroke="#000" stroke-width="0.15" >108.700</text>
<text x="1625.5" y="564.6" font-size="9" fill="#000" stroke="#000" stroke-width="0.15" >107.530</text>
<text x="1625.5" y="596.6" font-size="9" fill="#000" stroke="#000" stroke-width="0.15" >106.390</text>
<text x="1625.5" y="629.6" font-size="9" fill="#000" stroke="#000" stroke-width="0.15" >105.250</text>
<g shape-rendering="crispEdges">
<rect x="1621" y="387" width="41" height="11" fill="#ff0000"/>
<rect x="1621" y="429" width="41" height="11" fill="#ff0000"/>
<rect x="1621" y="468" width="41" height="11" fill="#ff8c00"/>
<rect x="1621" y="528" width="41" height="11" fill="#0000ff"/>
<rect x="1621" y="564" width="41" height="11" fill="#0000ff"/>
<rect x="1621" y="494" width="41" height="11" fill="#000"/>
</g>
<text x="1625.5" y="395.8" font-size="9" fill="#fff" stroke="#fff" stroke-width="0.15" >113.361</text>
<text x="1625.5" y="437.8" font-size="9" fill="#fff" stroke="#fff" stroke-width="0.15" >111.902</text>
<text x="1625.5" y="476.8" font-size="9" fill="#fff" stroke="#fff" stroke-width="0.15" >110.546</text>
<text x="1625.5" y="536.8" font-size="9" fill="#fff" stroke="#fff" stroke-width="0.15" >108.461</text>
<text x="1625.5" y="572.8" font-size="9" fill="#fff" stroke="#fff" stroke-width="0.15" >107.190</text>
<text x="1625.5" y="502.8" font-size="9" fill="#fff" stroke="#fff" stroke-width="0.15" >109.670</text>
<text x="6.3" y="37.3" font-size="9" fill="#000" stroke="#000" stroke-width="0.15" textLength="42.3" lengthAdjust="spacingAndGlyphs">UKOil-,H4</text>
<text x="55.5" y="37.3" font-size="9" fill="#000" stroke="#000" stroke-width="0.15" >109.575</text>
<text x="91.6" y="37.3" font-size="9" fill="#000" stroke="#000" stroke-width="0.15" >109.946</text>
<text x="127.7" y="37.3" font-size="9" fill="#000" stroke="#000" stroke-width="0.15" >109.559</text>
<text x="163.8" y="37.3" font-size="9" fill="#000" stroke="#000" stroke-width="0.15" >109.670</text>
<rect x="0" y="33" width="2" height="1" fill="#000" shape-rendering="crispEdges"/>
<path d="M1286.3 26.5 L1296.7 26.5 L1291.5 32.4 Z" fill="#000"/>
<g shape-rendering="crispEdges">
<rect x="-2" y="648" width="3" height="56" fill="#00ff00"/>
<rect x="6" y="652" width="3" height="52" fill="#00ff00"/>
<rect x="14" y="657" width="3" height="47" fill="#00ff00"/>
<rect x="22" y="658" width="3" height="46" fill="#00ff00"/>
<rect x="30" y="659" width="3" height="45" fill="#00ff00"/>
<rect x="38" y="671" width="3" height="33" fill="#00ff00"/>
<rect x="46" y="682" width="3" height="22" fill="#00ff00"/>
<rect x="54" y="691" width="3" height="13" fill="#00ff00"/>
<rect x="62" y="695" width="3" height="9" fill="#00ff00"/>
<rect x="70" y="700" width="3" height="4" fill="#00ff00"/>
<rect x="78" y="704" width="3" height="6" fill="#00ff00"/>
<rect x="86" y="704" width="3" height="7" fill="#00ff00"/>
<rect x="94" y="704" width="3" height="4" fill="#00ff00"/>
<rect x="102" y="704" width="3" height="1" fill="#00ff00"/>
<rect x="110" y="704" width="3" height="1" fill="#00ff00"/>
<rect x="118" y="701" width="3" height="3" fill="#00ff00"/>
<rect x="126" y="697" width="3" height="7" fill="#00ff00"/>
<rect x="134" y="694" width="3" height="10" fill="#00ff00"/>
<rect x="142" y="691" width="3" height="13" fill="#00ff00"/>
<rect x="150" y="688" width="3" height="16" fill="#00ff00"/>
<rect x="158" y="685" width="3" height="19" fill="#00ff00"/>
<rect x="166" y="682" width="3" height="22" fill="#00ff00"/>
<rect x="174" y="680" width="3" height="24" fill="#00ff00"/>
<rect x="182" y="681" width="3" height="23" fill="#00ff00"/>
<rect x="190" y="680" width="3" height="24" fill="#00ff00"/>
<rect x="198" y="680" width="3" height="24" fill="#00ff00"/>
<rect x="206" y="682" width="3" height="22" fill="#00ff00"/>
<rect x="214" y="684" width="3" height="20" fill="#00ff00"/>
<rect x="222" y="683" width="3" height="21" fill="#00ff00"/>
<rect x="230" y="683" width="3" height="21" fill="#00ff00"/>
<rect x="238" y="683" width="3" height="21" fill="#00ff00"/>
<rect x="246" y="682" width="3" height="22" fill="#00ff00"/>
<rect x="254" y="679" width="3" height="25" fill="#00ff00"/>
<rect x="262" y="678" width="3" height="26" fill="#00ff00"/>
<rect x="270" y="677" width="3" height="27" fill="#00ff00"/>
<rect x="278" y="681" width="3" height="23" fill="#00ff00"/>
<rect x="286" y="681" width="3" height="23" fill="#00ff00"/>
<rect x="294" y="681" width="3" height="23" fill="#00ff00"/>
<rect x="302" y="681" width="3" height="23" fill="#00ff00"/>
<rect x="310" y="681" width="3" height="23" fill="#00ff00"/>
<rect x="318" y="680" width="3" height="24" fill="#00ff00"/>
<rect x="326" y="674" width="3" height="30" fill="#00ff00"/>
<rect x="334" y="669" width="3" height="35" fill="#00ff00"/>
<rect x="342" y="665" width="3" height="39" fill="#00ff00"/>
<rect x="350" y="662" width="3" height="42" fill="#00ff00"/>
<rect x="358" y="659" width="3" height="45" fill="#00ff00"/>
<rect x="366" y="660" width="3" height="44" fill="#00ff00"/>
<rect x="374" y="656" width="3" height="48" fill="#00ff00"/>
<rect x="382" y="652" width="3" height="52" fill="#00ff00"/>
<rect x="390" y="658" width="3" height="46" fill="#00ff00"/>
<rect x="398" y="663" width="3" height="41" fill="#00ff00"/>
<rect x="406" y="667" width="3" height="37" fill="#00ff00"/>
<rect x="414" y="669" width="3" height="35" fill="#00ff00"/>
<rect x="422" y="671" width="3" height="33" fill="#00ff00"/>
<rect x="430" y="668" width="3" height="36" fill="#00ff00"/>
<rect x="438" y="663" width="3" height="41" fill="#00ff00"/>
<rect x="446" y="660" width="3" height="44" fill="#00ff00"/>
<rect x="454" y="664" width="3" height="40" fill="#00ff00"/>
<rect x="462" y="672" width="3" height="32" fill="#00ff00"/>
<rect x="470" y="678" width="3" height="26" fill="#00ff00"/>
<rect x="478" y="684" width="3" height="20" fill="#00ff00"/>
<rect x="486" y="684" width="3" height="20" fill="#00ff00"/>
<rect x="494" y="688" width="3" height="16" fill="#00ff00"/>
<rect x="502" y="689" width="3" height="15" fill="#00ff00"/>
<rect x="510" y="693" width="3" height="11" fill="#00ff00"/>
<rect x="518" y="697" width="3" height="7" fill="#00ff00"/>
<rect x="526" y="704" width="3" height="2" fill="#00ff00"/>
<rect x="534" y="704" width="3" height="9" fill="#00ff00"/>
<rect x="542" y="704" width="3" height="16" fill="#00ff00"/>
<rect x="550" y="704" width="3" height="9" fill="#00ff00"/>
<rect x="558" y="704" width="3" height="3" fill="#00ff00"/>
<rect x="566" y="701" width="3" height="3" fill="#00ff00"/>
<rect x="574" y="698" width="3" height="6" fill="#00ff00"/>
<rect x="582" y="699" width="3" height="5" fill="#00ff00"/>
<rect x="590" y="698" width="3" height="6" fill="#00ff00"/>
<rect x="598" y="691" width="3" height="13" fill="#00ff00"/>
<rect x="606" y="681" width="3" height="23" fill="#00ff00"/>
<rect x="614" y="672" width="3" height="32" fill="#00ff00"/>
<rect x="622" y="668" width="3" height="36" fill="#00ff00"/>
<rect x="630" y="666" width="3" height="38" fill="#00ff00"/>
<rect x="638" y="666" width="3" height="38" fill="#00ff00"/>
<rect x="646" y="667" width="3" height="37" fill="#00ff00"/>
<rect x="654" y="669" width="3" height="35" fill="#00ff00"/>
<rect x="662" y="669" width="3" height="35" fill="#00ff00"/>
<rect x="670" y="669" width="3" height="35" fill="#00ff00"/>
<rect x="678" y="670" width="3" height="34" fill="#00ff00"/>
<rect x="686" y="674" width="3" height="30" fill="#00ff00"/>
<rect x="694" y="673" width="3" height="31" fill="#00ff00"/>
<rect x="702" y="671" width="3" height="33" fill="#00ff00"/>
<rect x="710" y="671" width="3" height="33" fill="#00ff00"/>
<rect x="718" y="672" width="3" height="32" fill="#00ff00"/>
<rect x="726" y="671" width="3" height="33" fill="#00ff00"/>
<rect x="734" y="670" width="3" height="34" fill="#00ff00"/>
<rect x="742" y="665" width="3" height="39" fill="#00ff00"/>
<rect x="750" y="659" width="3" height="45" fill="#00ff00"/>
<rect x="758" y="655" width="3" height="49" fill="#00ff00"/>
<rect x="766" y="653" width="3" height="51" fill="#00ff00"/>
<rect x="774" y="653" width="3" height="51" fill="#00ff00"/>
<rect x="782" y="654" width="3" height="50" fill="#00ff00"/>
<rect x="790" y="655" width="3" height="49" fill="#00ff00"/>
<rect x="798" y="658" width="3" height="46" fill="#00ff00"/>
<rect x="806" y="660" width="3" height="44" fill="#00ff00"/>
<rect x="814" y="665" width="3" height="39" fill="#00ff00"/>
<rect x="822" y="669" width="3" height="35" fill="#00ff00"/>
<rect x="830" y="667" width="3" height="37" fill="#00ff00"/>
<rect x="838" y="675" width="3" height="29" fill="#00ff00"/>
<rect x="846" y="679" width="3" height="25" fill="#00ff00"/>
<rect x="854" y="684" width="3" height="20" fill="#00ff00"/>
<rect x="862" y="691" width="3" height="13" fill="#00ff00"/>
<rect x="870" y="697" width="3" height="7" fill="#00ff00"/>
<rect x="878" y="702" width="3" height="2" fill="#00ff00"/>
<rect x="886" y="699" width="3" height="5" fill="#00ff00"/>
<rect x="894" y="698" width="3" height="6" fill="#00ff00"/>
<rect x="902" y="697" width="3" height="7" fill="#00ff00"/>
<rect x="910" y="697" width="3" height="7" fill="#00ff00"/>
<rect x="918" y="693" width="3" height="11" fill="#00ff00"/>
<rect x="926" y="692" width="3" height="12" fill="#00ff00"/>
<rect x="934" y="687" width="3" height="17" fill="#00ff00"/>
<rect x="942" y="694" width="3" height="10" fill="#00ff00"/>
<rect x="950" y="698" width="3" height="6" fill="#00ff00"/>
<rect x="958" y="700" width="3" height="4" fill="#00ff00"/>
<rect x="966" y="702" width="3" height="2" fill="#00ff00"/>
<rect x="974" y="704" width="3" height="2" fill="#00ff00"/>
<rect x="982" y="704" width="3" height="6" fill="#00ff00"/>
<rect x="990" y="704" width="3" height="14" fill="#00ff00"/>
<rect x="998" y="704" width="3" height="19" fill="#00ff00"/>
<rect x="1006" y="704" width="3" height="21" fill="#00ff00"/>
<rect x="1014" y="704" width="3" height="24" fill="#00ff00"/>
<rect x="1022" y="704" width="3" height="32" fill="#00ff00"/>
<rect x="1030" y="704" width="3" height="34" fill="#00ff00"/>
<rect x="1038" y="704" width="3" height="33" fill="#00ff00"/>
<rect x="1046" y="704" width="3" height="31" fill="#00ff00"/>
<rect x="1054" y="704" width="3" height="30" fill="#00ff00"/>
<rect x="1062" y="704" width="3" height="25" fill="#00ff00"/>
<rect x="1070" y="704" width="3" height="22" fill="#00ff00"/>
<rect x="1078" y="704" width="3" height="35" fill="#00ff00"/>
<rect x="1086" y="704" width="3" height="48" fill="#00ff00"/>
<rect x="1094" y="704" width="3" height="57" fill="#00ff00"/>
<rect x="1102" y="704" width="3" height="66" fill="#00ff00"/>
<rect x="1110" y="704" width="3" height="70" fill="#00ff00"/>
<rect x="1118" y="704" width="3" height="72" fill="#00ff00"/>
<rect x="1126" y="704" width="3" height="73" fill="#00ff00"/>
<rect x="1134" y="704" width="3" height="70" fill="#00ff00"/>
<rect x="1142" y="704" width="3" height="65" fill="#00ff00"/>
<rect x="1150" y="704" width="3" height="59" fill="#00ff00"/>
<rect x="1158" y="704" width="3" height="53" fill="#00ff00"/>
<rect x="1166" y="704" width="3" height="51" fill="#00ff00"/>
<rect x="1174" y="704" width="3" height="49" fill="#00ff00"/>
<rect x="1182" y="704" width="3" height="47" fill="#00ff00"/>
<rect x="1190" y="704" width="3" height="55" fill="#00ff00"/>
<rect x="1198" y="704" width="3" height="64" fill="#00ff00"/>
<rect x="1206" y="704" width="3" height="72" fill="#00ff00"/>
<rect x="1214" y="704" width="3" height="71" fill="#00ff00"/>
<rect x="1222" y="704" width="3" height="72" fill="#00ff00"/>
<rect x="1230" y="704" width="3" height="74" fill="#00ff00"/>
<rect x="1238" y="704" width="3" height="77" fill="#00ff00"/>
<rect x="1246" y="704" width="3" height="75" fill="#00ff00"/>
<rect x="1254" y="704" width="3" height="69" fill="#00ff00"/>
<rect x="1262" y="704" width="3" height="65" fill="#00ff00"/>
<rect x="1270" y="704" width="3" height="65" fill="#00ff00"/>
<rect x="1278" y="704" width="3" height="64" fill="#00ff00"/>
</g>
<polyline points="-0.5,651.0 7.5,648.9 15.5,648.1 23.5,648.3 31.5,649.2 39.5,652.0 47.5,656.4 55.5,662.1 63.5,668.3 71.5,674.0 79.5,680.3 87.5,686.2 95.5,691.7 103.5,696.8 111.5,700.5 119.5,702.7 127.5,703.3 135.5,703.2 143.5,702.2 151.5,699.9 159.5,697.2 167.5,694.3 175.5,691.5 183.5,688.9 191.5,686.5 199.5,684.6 207.5,683.2 215.5,682.5 223.5,682.0 231.5,681.7 239.5,681.8 247.5,682.0 255.5,681.9 263.5,681.6 271.5,681.3 279.5,681.2 287.5,680.8 295.5,680.6 303.5,680.4 311.5,680.2 319.5,680.0 327.5,679.4 335.5,678.4 343.5,677.1 351.5,674.9 359.5,672.6 367.5,670.2 375.5,667.4 383.5,664.2 391.5,661.7 399.5,660.5 407.5,660.3 415.5,660.8 423.5,661.9 431.5,662.8 439.5,663.1 447.5,663.6 455.5,664.9 463.5,666.4 471.5,668.0 479.5,669.9 487.5,671.6 495.5,673.3 503.5,675.7 511.5,679.0 519.5,683.1 527.5,687.8 535.5,692.3 543.5,696.9 551.5,700.1 559.5,702.6 567.5,704.1 575.5,705.1 583.5,705.8 591.5,705.9 599.5,704.4 607.5,700.9 615.5,695.6 623.5,690.7 631.5,686.2 639.5,682.3 647.5,678.9 655.5,675.5 663.5,672.3 671.5,669.8 679.5,668.6 687.5,668.8 695.5,669.3 703.5,669.9 711.5,670.5 719.5,671.0 727.5,671.2 735.5,671.3 743.5,670.9 751.5,669.7 759.5,667.6 767.5,665.4 775.5,663.4 783.5,661.5 791.5,659.6 799.5,658.1 807.5,657.0 815.5,657.0 823.5,658.1 831.5,659.4 839.5,661.9 847.5,664.8 855.5,668.1 863.5,672.1 871.5,676.6 879.5,681.2 887.5,685.1 895.5,688.3 903.5,691.6 911.5,694.0 919.5,695.5 927.5,696.4 935.5,696.0 943.5,695.6 951.5,695.1 959.5,695.2 967.5,695.7 975.5,696.6 983.5,698.0 991.5,700.7 999.5,704.0 1007.5,708.2 1015.5,711.9 1023.5,716.1 1031.5,720.3 1039.5,724.0 1047.5,727.3 1055.5,729.9 1063.5,731.1 1071.5,731.5 1079.5,733.0 1087.5,735.6 1095.5,738.3 1103.5,741.8 1111.5,746.0 1119.5,750.6 1127.5,755.4 1135.5,760.4 1143.5,765.2 1151.5,767.8 1159.5,768.5 1167.5,767.8 1175.5,766.0 1183.5,763.4 1191.5,761.4 1199.5,760.4 1207.5,760.6 1215.5,761.3 1223.5,762.8 1231.5,765.1 1239.5,767.9 1247.5,770.8 1255.5,773.3 1263.5,774.4 1271.5,774.5 1279.5,773.7" fill="none" stroke="#ff0000" stroke-width="2" stroke-linejoin="round" shape-rendering="crispEdges"/>
<text x="-3" y="643.8" font-size="9" fill="#000" stroke="#000" stroke-width="0.15" textLength="63.6" lengthAdjust="spacingAndGlyphs">MACD(12,26,9)</text>
<text x="64.2" y="643.8" font-size="9" fill="#000" stroke="#000" stroke-width="0.15" >-1.7792</text>
<text x="98.4" y="643.8" font-size="9" fill="#000" stroke="#000" stroke-width="0.15" >-1.9521</text>
<text x="1623.3" y="641.8" font-size="9" fill="#000" stroke="#000" stroke-width="0.15" >2.0455</text>
<text x="1623.3" y="707.4" font-size="9" fill="#000" stroke="#000" stroke-width="0.15" >0.00</text>
<text x="1623.0" y="783.9" font-size="9" fill="#000" stroke="#000" stroke-width="0.15" >-2.3362</text>
<g shape-rendering="crispEdges"><rect x="1620" y="704" width="2" height="1" fill="#000"/><rect x="1620" y="633" width="1" height="1" fill="#000"/><rect x="1620" y="787" width="1" height="1" fill="#000"/><rect x="1620" y="791" width="1" height="1" fill="#000"/><rect x="1620" y="926" width="1" height="1" fill="#000"/><rect x="1619" y="630" width="1" height="1" fill="#fff"/><rect x="1619" y="788" width="1" height="1" fill="#fff"/></g>
<line x1="0" y1="818.5" x2="1619" y2="818.5" stroke="#000" stroke-width="1" stroke-dasharray="3 3" shape-rendering="crispEdges"/>
<line x1="0" y1="858.5" x2="1619" y2="858.5" stroke="#000" stroke-width="1" stroke-dasharray="3 3" shape-rendering="crispEdges"/>
<line x1="0" y1="906.5" x2="1619" y2="906.5" stroke="#000" stroke-width="1" stroke-dasharray="3 3" shape-rendering="crispEdges"/>
<polyline points="-0.5,856.2 7.5,851.3 15.5,852.4 23.5,847.9 31.5,847.2 39.5,865.2 47.5,867.4 55.5,867.4 63.5,860.9 71.5,863.9 79.5,871.7 87.5,861.2 95.5,855.8 103.5,854.9 111.5,857.9 119.5,853.4 127.5,850.2 135.5,851.8 143.5,849.1 151.5,849.7 159.5,847.8 167.5,844.5 175.5,848.0 183.5,851.1 191.5,849.0 199.5,848.7 207.5,853.8 215.5,856.1 223.5,847.6 231.5,850.1 239.5,848.6 247.5,847.9 255.5,841.8 263.5,843.5 271.5,843.0 279.5,857.7 287.5,848.8 295.5,849.7 303.5,848.5 311.5,846.1 319.5,846.3 327.5,832.7 335.5,832.5 343.5,830.5 351.5,831.9 359.5,830.9 367.5,837.7 375.5,829.7 383.5,826.3 391.5,853.2 399.5,853.3 407.5,852.5 415.5,849.6 423.5,848.9 431.5,837.9 439.5,833.6 447.5,837.7 455.5,850.4 463.5,861.6 471.5,860.5 479.5,862.2 487.5,852.9 495.5,858.4 503.5,854.9 511.5,862.7 519.5,863.5 527.5,871.9 535.5,873.5 543.5,876.3 551.5,851.5 559.5,849.7 567.5,848.5 575.5,852.9 583.5,858.7 591.5,855.0 599.5,845.1 607.5,838.2 615.5,838.1 623.5,842.1 631.5,843.9 639.5,846.2 647.5,849.5 655.5,850.7 663.5,845.6 671.5,846.3 679.5,847.7 687.5,854.8 695.5,846.2 703.5,843.5 711.5,846.6 719.5,846.6 727.5,844.3 735.5,840.9 743.5,833.9 751.5,829.7 759.5,832.8 767.5,832.1 775.5,838.8 783.5,838.0 791.5,837.9 799.5,842.7 807.5,843.5 815.5,850.7 823.5,850.8 831.5,838.2 839.5,863.1 847.5,857.4 855.5,859.0 863.5,867.1 871.5,868.5 879.5,867.7 887.5,851.4 895.5,853.3 903.5,854.0 911.5,855.3 919.5,847.1 927.5,850.9 935.5,843.6 943.5,865.2 951.5,863.1 959.5,861.3 967.5,860.6 975.5,864.3 983.5,868.7 991.5,875.1 999.5,874.0 1007.5,870.5 1015.5,871.8 1023.5,883.2 1031.5,871.2 1039.5,865.3 1047.5,865.4 1055.5,866.2 1063.5,857.1 1071.5,860.8 1079.5,882.6 1087.5,885.7 1095.5,885.8 1103.5,887.3 1111.5,884.9 1119.5,882.1 1127.5,881.1 1135.5,875.6 1143.5,869.8 1151.5,867.4 1159.5,866.0 1167.5,871.8 1175.5,872.3 1183.5,870.9 1191.5,886.8 1199.5,890.6 1207.5,891.7 1215.5,877.7 1223.5,879.4 1231.5,882.9 1239.5,885.0 1247.5,878.4 1255.5,867.3 1263.5,870.4 1271.5,876.4 1279.5,875.9" fill="none" stroke="#1e90ff" stroke-width="2" stroke-linejoin="round" shape-rendering="crispEdges"/>
<text x="-4" y="801.5" font-size="9" fill="#000" stroke="#000" stroke-width="0.15" >RSI(14)</text>
<text x="30.1" y="801.5" font-size="9" fill="#000" stroke="#000" stroke-width="0.15" >37.3558</text>
<text x="1623.4" y="799.8" font-size="9" fill="#000" stroke="#000" stroke-width="0.15" >100</text>
<text x="1622.2" y="821.8" font-size="9" fill="#000" stroke="#000" stroke-width="0.15" >80</text>
<text x="1622.2" y="861.8" font-size="9" fill="#000" stroke="#000" stroke-width="0.15" >50</text>
<text x="1622.2" y="909.7" font-size="9" fill="#000" stroke="#000" stroke-width="0.15" >15</text>
<text x="1623.4" y="923.8" font-size="9" fill="#000" stroke="#000" stroke-width="0.15" >0</text>
<g shape-rendering="crispEdges">
<rect x="55" y="928" width="1" height="3" fill="#000"/>
<rect x="119" y="928" width="1" height="3" fill="#000"/>
<rect x="183" y="928" width="1" height="3" fill="#000"/>
<rect x="247" y="928" width="1" height="3" fill="#000"/>
<rect x="311" y="928" width="1" height="3" fill="#000"/>
<rect x="375" y="928" width="1" height="3" fill="#000"/>
<rect x="439" y="928" width="1" height="3" fill="#000"/>
<rect x="503" y="928" width="1" height="3" fill="#000"/>
<rect x="567" y="928" width="1" height="3" fill="#000"/>
<rect x="631" y="928" width="1" height="3" fill="#000"/>
<rect x="695" y="928" width="1" height="3" fill="#000"/>
<rect x="759" y="928" width="1" height="3" fill="#000"/>
<rect x="823" y="928" width="1" height="3" fill="#000"/>
<rect x="887" y="928" width="1" height="3" fill="#000"/>
<rect x="951" y="928" width="1" height="3" fill="#000"/>
<rect x="1015" y="928" width="1" height="3" fill="#000"/>
<rect x="1079" y="928" width="1" height="3" fill="#000"/>
<rect x="1143" y="928" width="1" height="3" fill="#000"/>
<rect x="1207" y="928" width="1" height="3" fill="#000"/>
<rect x="1271" y="928" width="1" height="3" fill="#000"/>
</g>
<text x="3.5" y="939.8" font-size="9" fill="#000" stroke="#000" stroke-width="0.15" textLength="41.3" lengthAdjust="spacingAndGlyphs">May 2022</text>
<text x="54.5" y="939.8" font-size="9" fill="#000" stroke="#000" stroke-width="0.15" textLength="56.6" lengthAdjust="spacingAndGlyphs">18 May 20:00</text>
<text x="118.5" y="939.8" font-size="9" fill="#000" stroke="#000" stroke-width="0.15" textLength="56.6" lengthAdjust="spacingAndGlyphs">20 May 04:00</text>
<text x="182.5" y="939.8" font-size="9" fill="#000" stroke="#000" stroke-width="0.15" textLength="56.6" lengthAdjust="spacingAndGlyphs">23 May 12:00</text>
<text x="246.5" y="939.8" font-size="9" fill="#000" stroke="#000" stroke-width="0.15" textLength="56.6" lengthAdjust="spacingAndGlyphs">24 May 20:00</text>
<text x="310.5" y="939.8" font-size="9" fill="#000" stroke="#000" stroke-width="0.15" textLength="56.6" lengthAdjust="spacingAndGlyphs">26 May 04:00</text>
<text x="374.5" y="939.8" font-size="9" fill="#000" stroke="#000" stroke-width="0.15" textLength="56.6" lengthAdjust="spacingAndGlyphs">27 May 12:00</text>
<text x="438.5" y="939.8" font-size="9" fill="#000" stroke="#000" stroke-width="0.15" textLength="56.6" lengthAdjust="spacingAndGlyphs">31 May 04:00</text>
<text x="502.5" y="939.8" font-size="9" fill="#000" stroke="#000" stroke-width="0.15" >1 Jun 12:00</text>
<text x="566.5" y="939.8" font-size="9" fill="#000" stroke="#000" stroke-width="0.15" >2 Jun 20:00</text>
<text x="630.5" y="939.8" font-size="9" fill="#000" stroke="#000" stroke-width="0.15" >6 Jun 04:00</text>
<text x="694.5" y="939.8" font-size="9" fill="#000" stroke="#000" stroke-width="0.15" >7 Jun 12:00</text>
<text x="758.5" y="939.8" font-size="9" fill="#000" stroke="#000" stroke-width="0.15" >8 Jun 20:00</text>
<text x="822.5" y="939.8" font-size="9" fill="#000" stroke="#000" stroke-width="0.15" >10 Jun 04:00</text>
<text x="886.5" y="939.8" font-size="9" fill="#000" stroke="#000" stroke-width="0.15" >13 Jun 12:00</text>
<text x="950.5" y="939.8" font-size="9" fill="#000" stroke="#000" stroke-width="0.15" >14 Jun 20:00</text>
<text x="1014.5" y="939.8" font-size="9" fill="#000" stroke="#000" stroke-width="0.15" >16 Jun 04:00</text>
<text x="1078.5" y="939.8" font-size="9" fill="#000" stroke="#000" stroke-width="0.15" >17 Jun 12:00</text>
<text x="1142.5" y="939.8" font-size="9" fill="#000" stroke="#000" stroke-width="0.15" >21 Jun 00:00</text>
<text x="1206.5" y="939.8" font-size="9" fill="#000" stroke="#000" stroke-width="0.15" >22 Jun 08:00</text>
<text x="1270.5" y="939.8" font-size="9" fill="#000" stroke="#000" stroke-width="0.15" >23 Jun 16:00</text>
<defs>
<linearGradient id="gold" x1="0" y1="0" x2="1" y2="1"><stop offset="0" stop-color="#ffe680"/><stop offset="0.5" stop-color="#e8b020"/><stop offset="1" stop-color="#a86a08"/></linearGradient>
<linearGradient id="blu" x1="0" y1="0" x2="0" y2="1"><stop offset="0" stop-color="#3aa0f0"/><stop offset="1" stop-color="#1060d0"/></linearGradient>
<linearGradient id="cloud" x1="0" y1="0" x2="0" y2="1"><stop offset="0" stop-color="#ffffff"/><stop offset="1" stop-color="#b8c8e8"/></linearGradient>
<linearGradient id="grn" x1="0" y1="0" x2="0" y2="1"><stop offset="0" stop-color="#60e060"/><stop offset="1" stop-color="#10a010"/></linearGradient>
<radialGradient id="lens" cx="0.4" cy="0.35" r="0.7"><stop offset="0" stop-color="#ffffff"/><stop offset="1" stop-color="#a8d0f0"/></radialGradient>
<radialGradient id="clk" cx="0.5" cy="0.5" r="0.5"><stop offset="0.6" stop-color="#3890f0"/><stop offset="0.8" stop-color="#1868d8"/><stop offset="1" stop-color="#0a48b0"/></radialGradient>
<radialGradient id="badge" cx="0.4" cy="0.3" r="0.8"><stop offset="0" stop-color="#f05030"/><stop offset="1" stop-color="#c81808"/></radialGradient>
<pattern id="dots" width="2" height="2" patternUnits="userSpaceOnUse"><rect width="2" height="2" fill="#f0f0f0"/><rect width="1" height="1" fill="#fff"/><rect x="1" y="1" width="1" height="1" fill="#fff"/></pattern>
</defs>
<g shape-rendering="crispEdges">
<rect x="0" y="0" width="1666" height="22" fill="#f0f0f0"/>
<rect x="0" y="21" width="1666" height="1" fill="#f3f3f3"/>
<rect x="0" y="22" width="1666" height="1" fill="#a0a0a0"/>
<rect x="0" y="23" width="1666" height="1" fill="#696969"/>
<rect x="0" y="19" width="50" height="1" fill="#fafafa"/>
<rect x="49" y="0" width="1" height="20" fill="#fafafa"/>
<rect x="0" y="20" width="51" height="1" fill="#a0a0a0"/>
<rect x="50" y="0" width="1" height="21" fill="#a0a0a0"/>
<rect x="256" y="0" width="23" height="21" fill="url(#dots)"/>
<rect x="406" y="0" width="25" height="21" fill="url(#dots)"/>
<rect x="436" y="0" width="24" height="21" fill="url(#dots)"/>
<rect x="595" y="0" width="24" height="21" fill="url(#dots)"/>
<rect x="1041" y="0" width="25" height="21" fill="url(#dots)"/>
<rect x="216" y="1" width="1" height="19" fill="#a0a0a0"/>
<rect x="217" y="1" width="1" height="19" fill="#fff"/>
<rect x="254" y="1" width="1" height="19" fill="#a0a0a0"/>
<rect x="255" y="1" width="1" height="19" fill="#fff"/>
<rect x="311" y="1" width="1" height="19" fill="#a0a0a0"/>
<rect x="312" y="1" width="1" height="19" fill="#fff"/>
<rect x="401" y="1" width="1" height="19" fill="#a0a0a0"/>
<rect x="402" y="1" width="1" height="19" fill="#fff"/>
<rect x="434" y="1" width="1" height="19" fill="#a0a0a0"/>
<rect x="435" y="1" width="1" height="19" fill="#fff"/>
<rect x="463" y="1" width="1" height="19" fill="#a0a0a0"/>
<rect x="464" y="1" width="1" height="19" fill="#fff"/>
<rect x="585" y="1" width="1" height="19" fill="#a0a0a0"/>
<rect x="586" y="1" width="1" height="19" fill="#fff"/>
<rect x="651" y="1" width="1" height="19" fill="#a0a0a0"/>
<rect x="652" y="1" width="1" height="19" fill="#fff"/>
<rect x="890" y="1" width="1" height="19" fill="#a0a0a0"/>
<rect x="891" y="1" width="1" height="19" fill="#fff"/>
<rect x="1151" y="1" width="1" height="19" fill="#a0a0a0"/>
<rect x="1152" y="1" width="1" height="19" fill="#fff"/>
<rect x="594" y="0" width="1" height="20" fill="#808080"/>
<rect x="1040" y="0" width="1" height="20" fill="#808080"/>
<rect x="1151" y="0" width="1" height="22" fill="#909090"/>
<rect x="220" y="2" width="3" height="1" fill="#a8a8a8"/>
<rect x="220" y="4" width="3" height="1" fill="#a8a8a8"/>
<rect x="220" y="6" width="3" height="1" fill="#a8a8a8"/>
<rect x="220" y="8" width="3" height="1" fill="#a8a8a8"/>
<rect x="220" y="10" width="3" height="1" fill="#a8a8a8"/>
<rect x="220" y="12" width="3" height="1" fill="#a8a8a8"/>
<rect x="220" y="14" width="3" height="1" fill="#a8a8a8"/>
<rect x="220" y="16" width="3" height="1" fill="#a8a8a8"/>
<rect x="220" y="18" width="3" height="1" fill="#a8a8a8"/>
<rect x="588" y="2" width="3" height="1" fill="#a8a8a8"/>
<rect x="588" y="4" width="3" height="1" fill="#a8a8a8"/>
<rect x="588" y="6" width="3" height="1" fill="#a8a8a8"/>
<rect x="588" y="8" width="3" height="1" fill="#a8a8a8"/>
<rect x="588" y="10" width="3" height="1" fill="#a8a8a8"/>
<rect x="588" y="12" width="3" height="1" fill="#a8a8a8"/>
<rect x="588" y="14" width="3" height="1" fill="#a8a8a8"/>
<rect x="588" y="16" width="3" height="1" fill="#a8a8a8"/>
<rect x="588" y="18" width="3" height="1" fill="#a8a8a8"/>
<rect x="894" y="2" width="3" height="1" fill="#a8a8a8"/>
<rect x="894" y="4" width="3" height="1" fill="#a8a8a8"/>
<rect x="894" y="6" width="3" height="1" fill="#a8a8a8"/>
<rect x="894" y="8" width="3" height="1" fill="#a8a8a8"/>
<rect x="894" y="10" width="3" height="1" fill="#a8a8a8"/>
<rect x="894" y="12" width="3" height="1" fill="#a8a8a8"/>
<rect x="894" y="14" width="3" height="1" fill="#a8a8a8"/>
<rect x="894" y="16" width="3" height="1" fill="#a8a8a8"/>
<rect x="894" y="18" width="3" height="1" fill="#a8a8a8"/>
</g>
<path d="M0 7 H1.2 V10.3 H5 V14.4 H1.2 V18.7 H0 Z" fill="#10c010" stroke="#0a900a" stroke-width="0.5"/>
<rect x="0" y="3" width="0.8" height="3.5" fill="#808080"/>
<text x="7.8" y="11.8" font-size="12" fill="#000" stroke="#000" stroke-width="0.2">新订单</text>
<path d="M62.4 3 L71.8 9.4 L73 11.4 L64.8 17.6 L57 11.8 C59 10.5 60.5 9 60.7 7.7 C61 6 61.5 4.5 62.4 3 Z" fill="url(#gold)" stroke="#a86a10" stroke-width="0.9" stroke-linejoin="round"/>
<path d="M71.8 9.4 L73 11.4 L64.8 17.6 L64 15.4 Z" fill="#b88018" stroke="#8a5208" stroke-width="0.6" stroke-linejoin="round"/>
<path d="M58.2 12 L65 16.8" fill="none" stroke="#fff0a0" stroke-width="1.1" opacity="0.85"/>
<path d="M66 16.4 L72.4 11.6 M66.2 15.4 L71.8 11.1" fill="none" stroke="#e8d890" stroke-width="0.5" opacity="0.9"/>
<path d="M87.1 3.7 L87.6 2.4 L94 2.2 L97.7 4.4 L98 11.5 L87.3 11.5 Z" fill="#08a0ff"/>
<path d="M87.1 3.7 L87.6 2.4 L94 2.2 L97.7 4.4 L90.7 5 Z" fill="#3878e0"/>
<path d="M90.7 5 L90.7 11.5" stroke="#d8f0ff" stroke-width="0.7"/>
<path d="M87.3 3.9 L90.7 5 L97.6 4.5" stroke="#b0e0ff" stroke-width="0.5" fill="none"/>
<path d="M92.2 7.4 L97 6.2 L97 7.4 L92.2 8.6 Z" fill="#e8f6ff" opacity="0.9"/>
<path d="M87.4 17.6 C84.6 17.6 84.4 13.4 87.4 13.2 C87.6 10.8 90.6 10.4 91.6 11.8 C92.8 9.6 96.4 9.8 97 12.4 C99.6 11.4 101.8 13.4 100.8 15.6 C100.6 17 99.6 17.6 98.6 17.6 Z" fill="url(#cloud)" stroke="#4868a8" stroke-width="0.9"/>
<g fill="none" stroke-width="1">
<path d="M120.9 1.8 A7.8 7.8 0 0 0 117.5 16.6" stroke="#6090e0" opacity="0.7"/>
<path d="M120.9 4.4 A5.2 5.2 0 0 0 118.6 14.3" stroke="#5080d8" opacity="0.8"/>
<path d="M120.9 1.8 A7.8 7.8 0 0 1 121.4 17.4" stroke="#70b070" opacity="0.8"/>
<path d="M120.9 4.4 A5.2 5.2 0 0 1 121.4 14.8" stroke="#80b880" opacity="0.8"/>
</g>
<path d="M120.9 9.6 L126 4.5 A7.6 7.6 0 0 1 121.4 17.4 Z" fill="#90c890" opacity="0.45"/>
<circle cx="120.9" cy="9.4" r="1.5" fill="#2858d0"/>
<path d="M121.4 10 L121.4 17.6" stroke="#18a018" stroke-width="1.2"/>
<path d="M141.4 8.4 L155.2 8.4 L150.4 17.7 L146.4 17.7 Z" fill="#f8e468" stroke="#c8a428" stroke-width="0.6" stroke-linejoin="round"/>
<ellipse cx="148.2" cy="7" rx="7.8" ry="2.4" fill="#58a8e0" stroke="#2878b0" stroke-width="0.7"/>
<ellipse cx="148.2" cy="4.8" rx="4" ry="2.9" fill="#70b8e8" stroke="#2878b0" stroke-width="0.6"/>
<ellipse cx="148.2" cy="7.2" rx="6.6" ry="1.5" fill="#58a8e0"/>
<circle cx="152.6" cy="13.9" r="4.1" fill="url(#badge)"/>
<rect x="151" y="12.3" width="3.2" height="3.2" fill="#fff"/>
<text x="161.6" y="12.5" font-size="12" fill="#000" stroke="#000" stroke-width="0.2">自动交易</text>
<g stroke="#505050" stroke-width="1" fill="none" shape-rendering="crispEdges"><path d="M234.5 4 V17.5"/><path d="M232 15.5 H245"/></g><path d="M233 6 L234.5 3.6 L236 6" fill="none" stroke="#505050" stroke-width="1"/><path d="M243.2 14 L245.6 15.5 L243.2 17" fill="none" stroke="#505050" stroke-width="1"/>
<path d="M238.5 13 H240.5 V6 H242.5" fill="none" stroke="#209030" stroke-width="1.4"/>
<g stroke="#505050" stroke-width="1" fill="none" shape-rendering="crispEdges"><path d="M262.5 4 V17.5"/><path d="M260 15.5 H273"/></g><path d="M261 6 L262.5 3.6 L264 6" fill="none" stroke="#505050" stroke-width="1"/><path d="M271.2 14 L273.6 15.5 L271.2 17" fill="none" stroke="#505050" stroke-width="1"/>
<path d="M268.5 2.2 V13.6" stroke="#108020" stroke-width="1"/>
<rect x="266.5" y="4.4" width="4" height="7.2" fill="url(#grn)" stroke="#108020" stroke-width="0.8"/>
<g stroke="#505050" stroke-width="1" fill="none" shape-rendering="crispEdges"><path d="M290.5 4 V17.5"/><path d="M288 15.5 H301"/></g><path d="M289 6 L290.5 3.6 L292 6" fill="none" stroke="#505050" stroke-width="1"/><path d="M299.2 14 L301.6 15.5 L299.2 17" fill="none" stroke="#505050" stroke-width="1"/>
<path d="M289.5 12.5 C292 9 294 6.6 296 7.4 C298 8.2 299 10.4 301 11" fill="none" stroke="#209030" stroke-width="1.2"/>
<path d="M328.8 11.4 L334.0 16.6" stroke="#b89018" stroke-width="2.6" stroke-linecap="round"/><path d="M329.20000000000005 11.6 L333.6 16" stroke="#f0d860" stroke-width="1" stroke-linecap="round"/><circle cx="325.6" cy="8" r="5.2" fill="url(#lens)" stroke="#3070d0" stroke-width="1.3"/><path d="M322.8 8 H328.40000000000003" stroke="#3878c8" stroke-width="1.6"/><path d="M325.6 5.2 V10.8" stroke="#3878c8" stroke-width="1.6"/>
<path d="M356.8 11.4 L362.0 16.6" stroke="#b89018" stroke-width="2.6" stroke-linecap="round"/><path d="M357.20000000000005 11.6 L361.6 16" stroke="#f0d860" stroke-width="1" stroke-linecap="round"/><circle cx="353.6" cy="8" r="5.2" fill="url(#lens)" stroke="#3070d0" stroke-width="1.3"/><path d="M350.8 8 H356.40000000000003" stroke="#3878c8" stroke-width="1.6"/>
<rect x="376" y="2.4" width="7.6" height="7.4" fill="#40a020"/><rect x="377" y="5.0" width="5.6" height="3.6" fill="#fff" opacity="0.9"/><rect x="377.8" y="6.199999999999999" width="4" height="1" fill="#40a020"/>
<rect x="384.2" y="2.4" width="7.6" height="7.4" fill="#2058d0"/><rect x="385.2" y="5.0" width="5.6" height="3.6" fill="#fff" opacity="0.9"/><rect x="386.0" y="6.199999999999999" width="4" height="1" fill="#2058d0"/>
<rect x="376" y="10.2" width="7.6" height="7.4" fill="#2058d0"/><rect x="377" y="12.799999999999999" width="5.6" height="3.6" fill="#fff" opacity="0.9"/><rect x="377.8" y="14.0" width="4" height="1" fill="#2058d0"/>
<rect x="384.2" y="10.2" width="7.6" height="7.4" fill="#40a020"/><rect x="385.2" y="12.799999999999999" width="5.6" height="3.6" fill="#fff" opacity="0.9"/><rect x="386.0" y="14.0" width="4" height="1" fill="#40a020"/>
<g stroke="#505050" stroke-width="1" fill="none" shape-rendering="crispEdges"><path d="M414.5 4 V17.5"/><path d="M412 15.5 H425"/></g><path d="M413 6 L414.5 3.6 L416 6" fill="none" stroke="#505050" stroke-width="1"/><path d="M423.2 14 L425.6 15.5 L423.2 17" fill="none" stroke="#505050" stroke-width="1"/>
<path d="M419.5 6 L423.2 9 L419.5 12 Z" fill="#30b030" stroke="#108018" stroke-width="0.6"/>
<g stroke="#505050" stroke-width="1" fill="none" shape-rendering="crispEdges"><path d="M442.5 4 V17.5"/><path d="M440 15.5 H453"/></g><path d="M441 6 L442.5 3.6 L444 6" fill="none" stroke="#505050" stroke-width="1"/><path d="M451.2 14 L453.6 15.5 L451.2 17" fill="none" stroke="#505050" stroke-width="1"/>
<path d="M448.5 4 V13.6" stroke="#2060b0" stroke-width="1"/>
<path d="M454 9 H450 M451.8 7 L449.8 9 L451.8 11" fill="none" stroke="#d04010" stroke-width="1.1"/>
<path d="M494.7 9 H500.3 L497.5 12 Z" fill="#000"/>
<path d="M533.7 9 H539.3 L536.5 12 Z" fill="#000"/>
<path d="M572.7 9 H578.3 L575.5 12 Z" fill="#000"/>
<path d="M878.7 9 H884.3 L881.5 12 Z" fill="#000"/>
<path d="M473.6 2.8 H481.6 L484.8 6 V15.4 H473.6 Z" fill="#fbfbfb" stroke="#808080" stroke-width="0.8"/>
<path d="M481.6 2.8 V6 H484.8" fill="#e0e0e0" stroke="#808080" stroke-width="0.6"/>
<path d="M478.6 5.2 C477 5.2 477.2 6.4 477.2 7.4 V11.6 M476.2 8.2 H478.6" stroke="#505040" stroke-width="0.8" fill="none"/>
<path d="M481.1 8.1 H484.9 V12 H488.9 V15.8 H484.9 V19.8 H481.1 V15.8 H477.1 V12 H481.1 Z" fill="#18d018" stroke="#0a8a0a" stroke-width="0.8" stroke-linejoin="round"/>
<path d="M481.9 9 H484 M478 12.9 H481.6" stroke="#a0ffa0" stroke-width="0.7" fill="none"/>
<circle cx="519.2" cy="10" r="8" fill="url(#clk)"/>
<circle cx="519.2" cy="10" r="5.4" fill="#f4f8fc"/>
<g fill="#8090a0"><rect x="518.8" y="5.2" width="0.8" height="1"/><rect x="518.8" y="13.8" width="0.8" height="1"/><rect x="514.4" y="9.6" width="1" height="0.8"/><rect x="523" y="9.6" width="1" height="0.8"/></g>
<path d="M519.2 6 V10.2 H522.2" fill="none" stroke="#202020" stroke-width="1.1"/>
<rect x="550.4" y="3.2" width="15.4" height="13.4" fill="#fff" stroke="#3070c8" stroke-width="1"/>
<rect x="550.4" y="3.2" width="15.4" height="2.4" fill="#4890e0"/>
<rect x="551" y="10" width="14" height="1" fill="#4080d0" shape-rendering="crispEdges"/>
<path d="M552.4 9.4 L553.8 9.4 L555.6 8 L557.2 8 L558.6 8.8 L560.4 8.8 L562 7.4 L563.8 7.4" fill="none" stroke="#a82000" stroke-width="1.3"/>
<path d="M552.6 14.4 L554.2 14.4 L556 13.2 L557.6 14.4 L559.2 14.4 L561.2 12.4 L562.4 13.2 L563.6 14.6" fill="none" stroke="#109020" stroke-width="1.3"/>
<path d="M602.2 3 L602.2 14.2 L604.8 11.8 L607 16.8 L608.8 16 L606.6 11.2 L610.2 11 Z" fill="#484848"/>
<g stroke="#505050" stroke-width="1" shape-rendering="crispEdges"><path d="M634.5 3 V9 M634.5 12 V17.6 M627 10.5 H633 M636 10.5 H642"/></g>
<g stroke="#505050" stroke-width="1" shape-rendering="crispEdges"><path d="M668.5 4 V17"/><path d="M691 10.5 H703"/></g>
<path d="M719 16.8 L731 4.8" stroke="#505050" stroke-width="1.1"/>
<g stroke="#505050" stroke-width="0.9" fill="none"><path d="M745 11 L757.5 4"/><path d="M746.5 15.4 L759 8.4"/><path d="M749 7.6 L748 15.4 M752.6 5.6 L751.6 13.4 M756.4 3.4 L755.4 11.2"/></g>
<text x="755.6" y="18.6" font-size="6.5" font-weight="bold" fill="#404040">E</text>
<g stroke="#505050" stroke-width="1" stroke-dasharray="1 1" shape-rendering="crispEdges"><path d="M774 3.5 H787 M774 7.5 H787 M774 10.5 H787 M774 14.5 H782"/></g>
<text x="783.4" y="18.6" font-size="6.5" font-weight="bold" fill="#404040">F</text>
<text x="804" y="15.2" font-size="12.5" fill="#505050" font-weight="bold" style="font-family:'Liberation Sans',sans-serif">A</text>
<rect x="830.5" y="3.5" width="12" height="13" fill="none" stroke="#505050" stroke-width="1" stroke-dasharray="1 1" shape-rendering="crispEdges"/>
<path d="M832.6 6.4 H840.6 M836.6 6.4 V14.6" stroke="#505050" stroke-width="1.5" fill="none"/>
<path d="M861 3.2 L864 6.4 L858 6.4 Z" fill="#404040"/><path d="M861 9.2 L864 6.4 L858 6.4 Z" fill="#404040"/>
<path d="M869 11 L872.2 14 L869 17 L865.8 14 Z" fill="#404040"/>
<path d="M860.4 10.4 L862.6 12.8 L866.6 8" fill="none" stroke="#404040" stroke-width="1.2"/>
<text x="912" y="13.7" font-size="9.3" fill="#404040" text-anchor="middle">M1</text>
<text x="940" y="13.7" font-size="9.3" fill="#404040" text-anchor="middle">M5</text>
<text x="968.3" y="13.7" font-size="9.3" fill="#404040" text-anchor="middle">M15</text>
<text x="996.4" y="13.7" font-size="9.3" fill="#404040" text-anchor="middle">M30</text>
<text x="1024.5" y="13.7" font-size="9.3" fill="#404040" text-anchor="middle">H1</text>
<text x="1051.7" y="13.7" font-size="9.3" fill="#404040" text-anchor="middle">H4</text>
<text x="1080.5" y="13.7" font-size="9.3" fill="#404040" text-anchor="middle">D1</text>
<text x="1109.2" y="13.7" font-size="9.3" fill="#404040" text-anchor="middle">W1</text>
<text x="1136" y="13.7" font-size="9.3" fill="#404040" text-anchor="middle">MN</text>
<circle cx="1622" cy="7.4" r="3.6" fill="#fff" stroke="#3060c8" stroke-width="1.5"/>
<path d="M1619.4 10.4 L1614.4 15.2" stroke="#3060c8" stroke-width="2.2" stroke-linecap="round"/>
<path d="M1638.5 12 C1638.5 9 1642 7.6 1645 7.6 C1649 7.6 1651 9.6 1651 12 C1651 14.6 1648 16 1645 16 L1643.4 18.2 L1643 16 C1640 15.6 1638.5 14 1638.5 12 Z" fill="#f8f8f8" stroke="#b0b0b0" stroke-width="0.8"/>
<circle cx="1652.6" cy="7.6" r="8.2" fill="url(#badge)"/>
<text x="1652.4" y="11.6" font-size="11" fill="#fff" text-anchor="middle">1</text>
</svg>
</body></html>
